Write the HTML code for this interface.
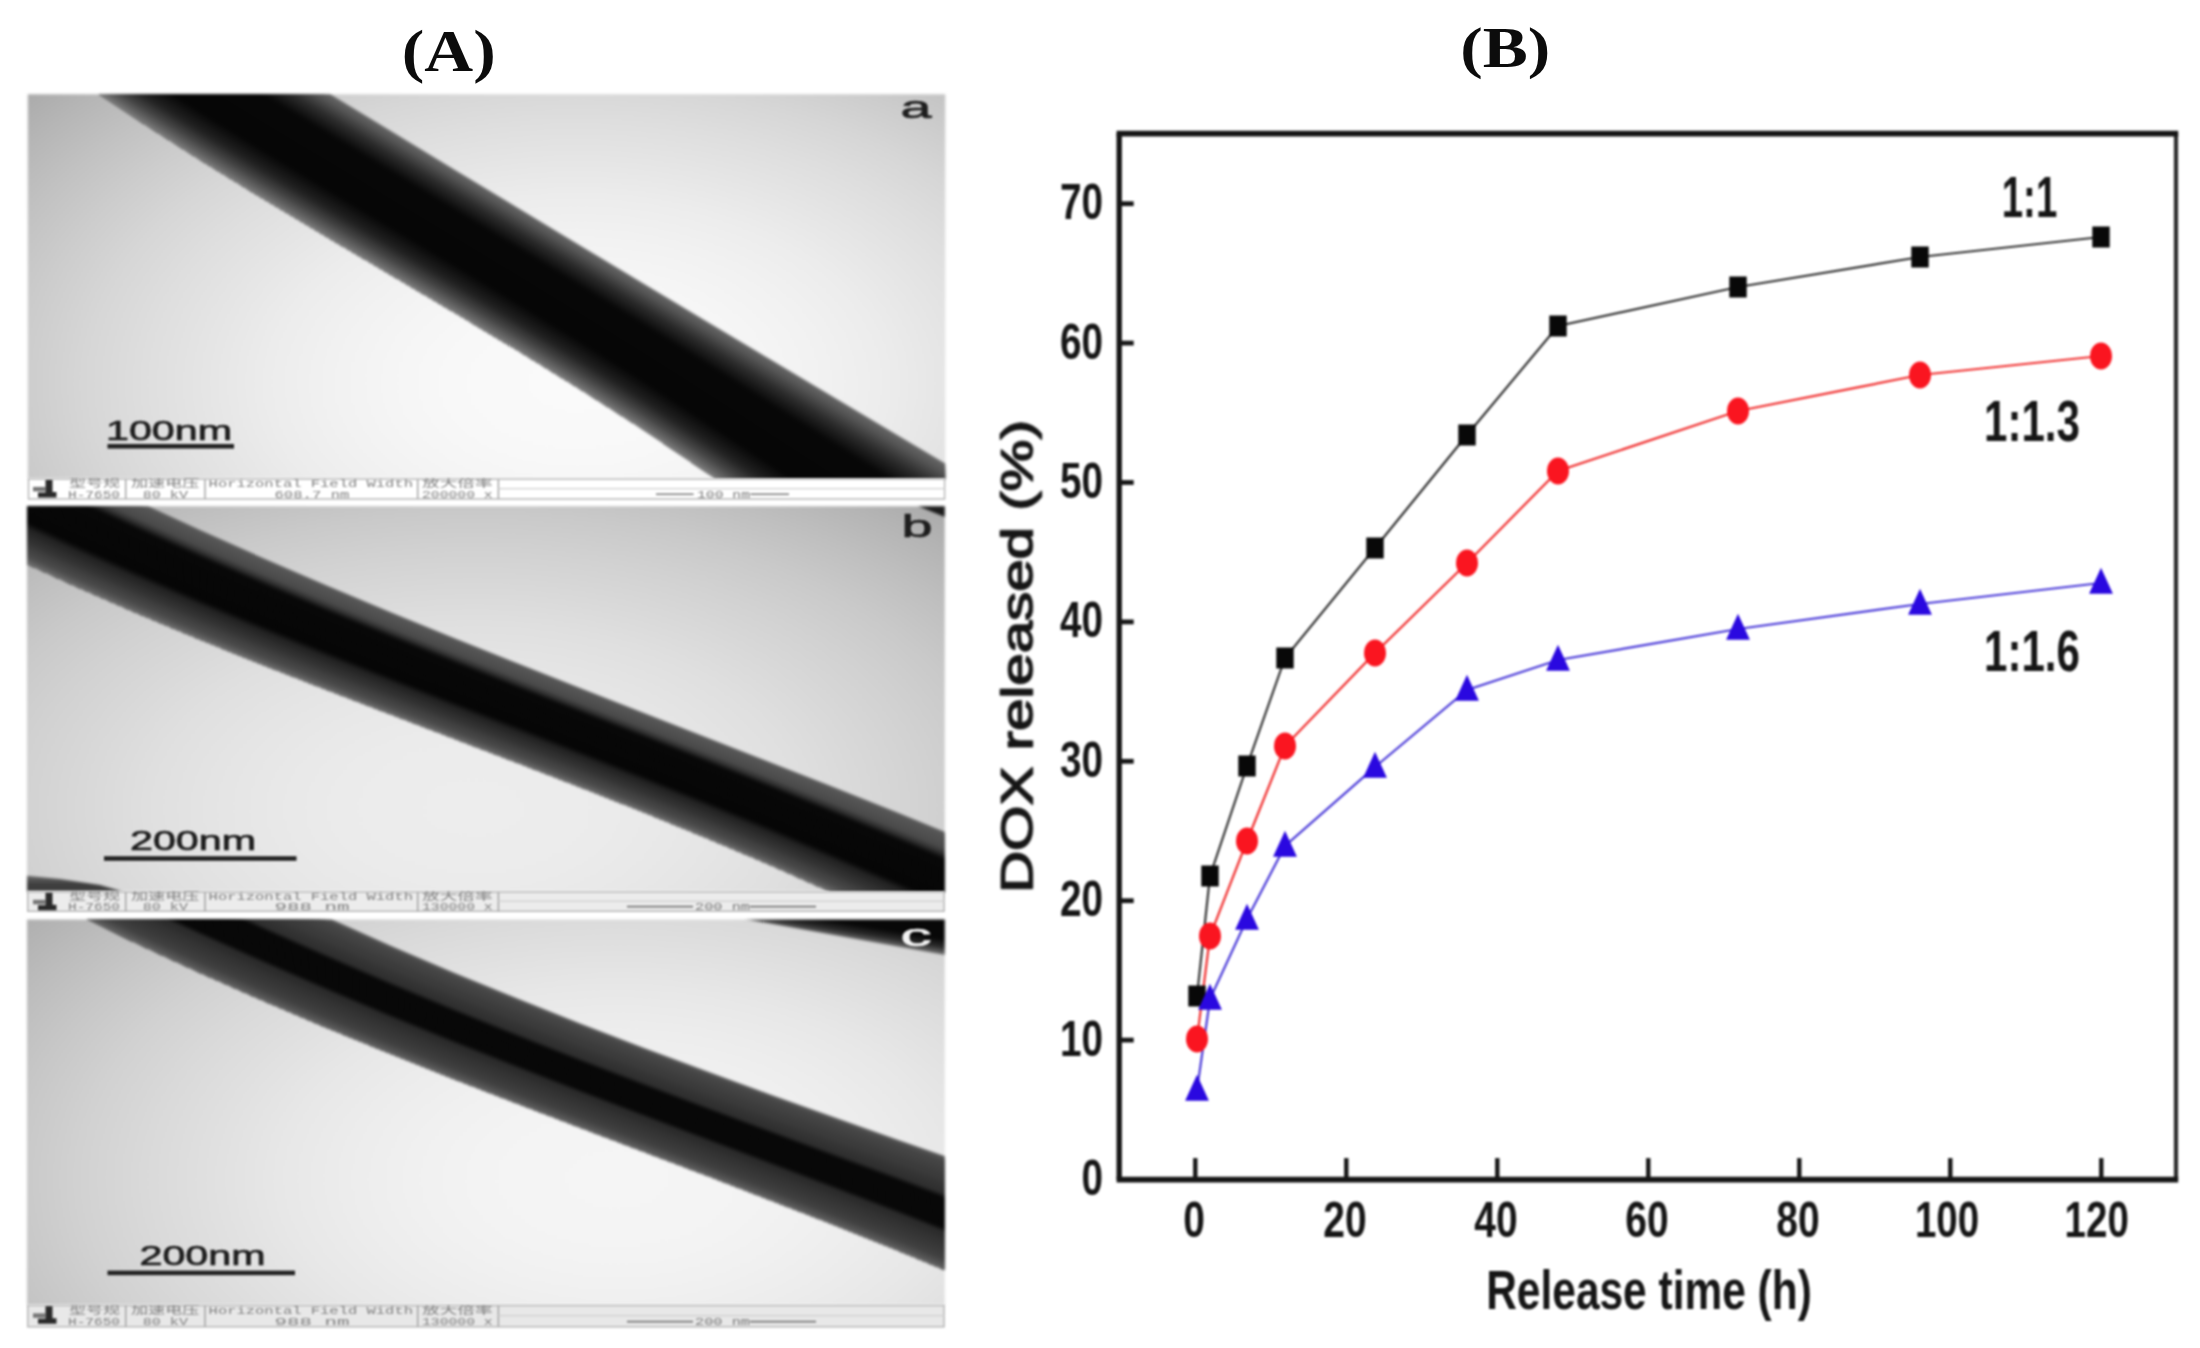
<!DOCTYPE html>
<html lang="en"><head><meta charset="utf-8"><title>Figure</title>
<style>
html,body{margin:0;padding:0;background:#fff;}
body{width:2200px;height:1348px;overflow:hidden;}
svg{display:block;}
text{font-family:"Liberation Sans","Noto Sans CJK SC",sans-serif;}
.ser{font-family:"Liberation Serif",serif;font-weight:bold;}
.mono{font-family:"Liberation Mono","Noto Sans CJK SC",monospace;}
</style></head><body>
<svg width="2200" height="1348" viewBox="0 0 2200 1348">
<defs>
<filter id="blur1" color-interpolation-filters="sRGB" filterUnits="userSpaceOnUse" x="0" y="60" width="1000" height="1288"><feGaussianBlur stdDeviation="1.7"/></filter>
<filter id="blurT" color-interpolation-filters="sRGB" filterUnits="userSpaceOnUse" x="0" y="60" width="1000" height="1288"><feGaussianBlur stdDeviation="0.9"/></filter>
<filter id="blurC" color-interpolation-filters="sRGB" filterUnits="userSpaceOnUse" x="960" y="0" width="1240" height="1348"><feGaussianBlur stdDeviation="0.8"/></filter>
<filter id="blurH" color-interpolation-filters="sRGB" filterUnits="userSpaceOnUse" x="300" y="0" width="1400" height="100"><feGaussianBlur stdDeviation="0.7"/></filter>

<radialGradient id="bga" gradientUnits="userSpaceOnUse" cx="577" cy="383" r="987" gradientTransform="translate(577 383) scale(1 0.6047) translate(-577 -383)"><stop offset="0.0000" stop-color="#fafafa"/><stop offset="0.0625" stop-color="#f9f9f9"/><stop offset="0.1250" stop-color="#f8f8f8"/><stop offset="0.1875" stop-color="#f5f5f5"/><stop offset="0.2500" stop-color="#f1f1f1"/><stop offset="0.3125" stop-color="#ececec"/><stop offset="0.3750" stop-color="#e5e5e5"/><stop offset="0.4375" stop-color="#dedede"/><stop offset="0.5000" stop-color="#d6d6d6"/><stop offset="0.5625" stop-color="#cccccc"/><stop offset="0.6250" stop-color="#c1c1c1"/><stop offset="0.6875" stop-color="#b5b5b5"/><stop offset="0.7500" stop-color="#a8a8a8"/><stop offset="0.8125" stop-color="#9a9a9a"/><stop offset="0.8750" stop-color="#8a8a8a"/><stop offset="0.9375" stop-color="#888888"/><stop offset="1.0000" stop-color="#888888"/></radialGradient>
<radialGradient id="bgb" gradientUnits="userSpaceOnUse" cx="474" cy="808" r="1046" gradientTransform="translate(474 808) scale(1 0.5639) translate(-474 -808)"><stop offset="0.0000" stop-color="#ededed"/><stop offset="0.0625" stop-color="#ececec"/><stop offset="0.1250" stop-color="#ebebeb"/><stop offset="0.1875" stop-color="#e8e8e8"/><stop offset="0.2500" stop-color="#e4e4e4"/><stop offset="0.3125" stop-color="#dfdfdf"/><stop offset="0.3750" stop-color="#d8d8d8"/><stop offset="0.4375" stop-color="#d1d1d1"/><stop offset="0.5000" stop-color="#c9c9c9"/><stop offset="0.5625" stop-color="#bfbfbf"/><stop offset="0.6250" stop-color="#b4b4b4"/><stop offset="0.6875" stop-color="#a8a8a8"/><stop offset="0.7500" stop-color="#9b9b9b"/><stop offset="0.8125" stop-color="#8d8d8d"/><stop offset="0.8750" stop-color="#888888"/><stop offset="0.9375" stop-color="#888888"/><stop offset="1.0000" stop-color="#888888"/></radialGradient>
<radialGradient id="bgc" gradientUnits="userSpaceOnUse" cx="617" cy="1179" r="1079" gradientTransform="translate(617 1179) scale(1 0.5682) translate(-617 -1179)"><stop offset="0.0000" stop-color="#f5f5f5"/><stop offset="0.0625" stop-color="#f4f4f4"/><stop offset="0.1250" stop-color="#f3f3f3"/><stop offset="0.1875" stop-color="#f0f0f0"/><stop offset="0.2500" stop-color="#ececec"/><stop offset="0.3125" stop-color="#e7e7e7"/><stop offset="0.3750" stop-color="#e0e0e0"/><stop offset="0.4375" stop-color="#d9d9d9"/><stop offset="0.5000" stop-color="#d1d1d1"/><stop offset="0.5625" stop-color="#c7c7c7"/><stop offset="0.6250" stop-color="#bcbcbc"/><stop offset="0.6875" stop-color="#b0b0b0"/><stop offset="0.7500" stop-color="#a3a3a3"/><stop offset="0.8125" stop-color="#959595"/><stop offset="0.8750" stop-color="#888888"/><stop offset="0.9375" stop-color="#888888"/><stop offset="1.0000" stop-color="#888888"/></radialGradient>
<linearGradient id="lgc" gradientUnits="userSpaceOnUse" x1="836" y1="937.5" x2="838.6" y2="921.7"><stop offset="0" stop-color="#777"/><stop offset="0.5" stop-color="#2a2a2a"/><stop offset="1" stop-color="#080808"/></linearGradient>
<linearGradient id="lgf" x1="0" y1="0" x2="0" y2="1"><stop offset="0" stop-color="#6a6a6a"/><stop offset="0.5" stop-color="#3c3c3c"/><stop offset="1" stop-color="#444"/></linearGradient>
<clipPath id="cpa"><rect x="27.8" y="94.3" width="917.5" height="384.1"/></clipPath>
<clipPath id="cpb"><rect x="27.0" y="506.3" width="917.8" height="385.0"/></clipPath>
<clipPath id="cpc"><rect x="27.0" y="919.5" width="917.8" height="385.3"/></clipPath>
</defs>
<rect width="2200" height="1348" fill="#fff"/>
<g filter="url(#blur1)"><g clip-path="url(#cpa)">
<rect x="22.8" y="89.3" width="927.5" height="394.1" fill="url(#bga)"/>
<polygon points="10.0,-100.5 73.3,-62.0 136.7,-23.5 200.0,15.1 263.3,53.6 326.7,92.1 390.0,130.6 453.3,168.9 516.7,207.2 580.0,245.4 643.3,283.5 706.7,321.4 770.0,359.3 833.3,397.1 896.7,434.8 960.0,472.3 960.0,649.6 896.7,605.3 833.3,561.0 770.0,516.7 706.7,472.4 643.3,429.6 580.0,388.9 516.7,349.8 453.3,311.8 390.0,274.2 326.7,236.7 263.3,198.8 200.0,159.8 136.7,119.3 73.3,76.9 10.0,34.2" fill="#646464"/>
<polygon points="10.0,-97.4 73.3,-58.8 136.7,-20.2 200.0,18.3 263.3,56.9 326.7,95.4 390.0,133.8 453.3,172.2 516.7,210.5 580.0,248.7 643.3,286.8 706.7,324.9 770.0,362.9 833.3,400.8 896.7,438.6 960.0,476.4 960.0,649.6 896.7,605.3 833.3,561.0 770.0,516.7 706.7,472.4 643.3,429.6 580.0,388.9 516.7,349.8 453.3,311.8 390.0,274.2 326.7,236.7 263.3,198.8 200.0,159.8 136.7,119.3 73.3,76.9 10.0,34.2" fill="#5c5c5c"/>
<polygon points="10.0,-94.4 73.3,-55.7 136.7,-17.0 200.0,21.6 263.3,60.2 326.7,98.7 390.0,137.1 453.3,175.4 516.7,213.7 580.0,251.9 643.3,290.1 706.7,328.3 770.0,366.5 833.3,404.5 896.7,442.5 960.0,480.4 960.0,649.6 896.7,605.3 833.3,561.0 770.0,516.7 706.7,472.4 643.3,429.6 580.0,388.9 516.7,349.8 453.3,311.8 390.0,274.2 326.7,236.7 263.3,198.8 200.0,159.8 136.7,119.3 73.3,76.9 10.0,34.2" fill="#555555"/>
<polygon points="10.0,-91.3 73.3,-52.5 136.7,-13.7 200.0,24.9 263.3,63.5 326.7,102.0 390.0,140.4 453.3,178.7 516.7,216.9 580.0,255.2 643.3,293.4 706.7,331.7 770.0,370.0 833.3,408.3 896.7,446.4 960.0,484.4 960.0,649.6 896.7,605.3 833.3,561.0 770.0,516.7 706.7,472.4 643.3,429.6 580.0,388.9 516.7,349.8 453.3,311.8 390.0,274.2 326.7,236.7 263.3,198.8 200.0,159.8 136.7,119.3 73.3,76.9 10.0,34.2" fill="#4c4c4c"/>
<polygon points="10.0,-88.3 73.3,-49.4 136.7,-10.5 200.0,28.2 263.3,66.8 326.7,105.2 390.0,143.6 453.3,181.9 516.7,220.2 580.0,258.4 643.3,296.7 706.7,335.2 770.0,373.6 833.3,412.0 896.7,450.3 960.0,488.5 960.0,649.6 896.7,605.3 833.3,561.0 770.0,516.7 706.7,472.4 643.3,429.6 580.0,388.9 516.7,349.8 453.3,311.8 390.0,274.2 326.7,236.7 263.3,198.8 200.0,159.8 136.7,119.3 73.3,76.9 10.0,34.2" fill="#434343"/>
<polygon points="10.0,-85.2 73.3,-46.2 136.7,-7.2 200.0,31.5 263.3,70.1 326.7,108.5 390.0,146.9 453.3,185.2 516.7,223.4 580.0,261.7 643.3,300.1 706.7,338.6 770.0,377.2 833.3,415.7 896.7,454.1 960.0,492.5 960.0,649.6 896.7,605.3 833.3,561.0 770.0,516.7 706.7,472.4 643.3,429.6 580.0,388.9 516.7,349.8 453.3,311.8 390.0,274.2 326.7,236.7 263.3,198.8 200.0,159.8 136.7,119.3 73.3,76.9 10.0,34.2" fill="#3a3a3a"/>
<polygon points="10.0,-82.1 73.3,-43.0 136.7,-4.0 200.0,34.8 263.3,73.4 326.7,111.8 390.0,150.2 453.3,188.4 516.7,226.7 580.0,265.0 643.3,303.4 706.7,342.0 770.0,380.8 833.3,419.4 896.7,458.0 960.0,496.5 960.0,649.6 896.7,605.3 833.3,561.0 770.0,516.7 706.7,472.4 643.3,429.6 580.0,388.9 516.7,349.8 453.3,311.8 390.0,274.2 326.7,236.7 263.3,198.8 200.0,159.8 136.7,119.3 73.3,76.9 10.0,34.2" fill="#313131"/>
<polygon points="10.0,-79.1 73.3,-39.9 136.7,-0.8 200.0,38.1 263.3,76.7 326.7,115.1 390.0,153.4 453.3,191.7 516.7,229.9 580.0,268.2 643.3,306.7 706.7,345.5 770.0,384.3 833.3,423.2 896.7,461.9 960.0,500.5 960.0,649.6 896.7,605.3 833.3,561.0 770.0,516.7 706.7,472.4 643.3,429.6 580.0,388.9 516.7,349.8 453.3,311.8 390.0,274.2 326.7,236.7 263.3,198.8 200.0,159.8 136.7,119.3 73.3,76.9 10.0,34.2" fill="#292929"/>
<polygon points="10.0,-76.0 73.3,-36.7 136.7,2.5 200.0,41.4 263.3,80.0 326.7,118.4 390.0,156.7 453.3,194.9 516.7,233.1 580.0,271.5 643.3,310.0 706.7,348.9 770.0,387.9 833.3,426.9 896.7,465.8 960.0,504.6 960.0,649.6 896.7,605.3 833.3,561.0 770.0,516.7 706.7,472.4 643.3,429.6 580.0,388.9 516.7,349.8 453.3,311.8 390.0,274.2 326.7,236.7 263.3,198.8 200.0,159.8 136.7,119.3 73.3,76.9 10.0,34.2" fill="#232323"/>
<polygon points="10.0,-72.9 73.3,-33.6 136.7,5.7 200.0,44.7 263.3,83.3 326.7,121.7 390.0,160.0 453.3,198.2 516.7,236.4 580.0,274.8 643.3,313.4 706.7,352.3 770.0,391.5 833.3,430.6 896.7,469.6 960.0,508.6 960.0,649.6 896.7,605.3 833.3,561.0 770.0,516.7 706.7,472.4 643.3,429.6 580.0,388.9 516.7,349.8 453.3,311.8 390.0,274.2 326.7,236.7 263.3,198.8 200.0,159.8 136.7,119.3 73.3,76.9 10.0,34.2" fill="#1c1c1c"/>
<polygon points="10.0,-69.9 73.3,-30.4 136.7,9.0 200.0,47.9 263.3,86.6 326.7,125.0 390.0,163.2 453.3,201.4 516.7,239.6 580.0,278.0 643.3,316.7 706.7,355.7 770.0,395.1 833.3,434.3 896.7,473.5 960.0,512.6 960.0,649.6 896.7,605.3 833.3,561.0 770.0,516.7 706.7,472.4 643.3,429.6 580.0,388.9 516.7,349.8 453.3,311.8 390.0,274.2 326.7,236.7 263.3,198.8 200.0,159.8 136.7,119.3 73.3,76.9 10.0,34.2" fill="#161616"/>
<polygon points="10.0,-66.8 73.3,-27.3 136.7,12.2 200.0,51.2 263.3,89.9 326.7,128.3 390.0,166.5 453.3,204.6 516.7,242.9 580.0,281.3 643.3,320.0 706.7,359.2 770.0,398.7 833.3,438.1 896.7,477.4 960.0,516.7 960.0,649.6 896.7,605.3 833.3,561.0 770.0,516.7 706.7,472.4 643.3,429.6 580.0,388.9 516.7,349.8 453.3,311.8 390.0,274.2 326.7,236.7 263.3,198.8 200.0,159.8 136.7,119.3 73.3,76.9 10.0,34.2" fill="#0f0f0f"/>
<polygon points="10.0,-63.8 73.3,-24.1 136.7,15.5 200.0,54.5 263.3,93.2 326.7,131.5 390.0,169.7 453.3,207.9 516.7,246.1 580.0,284.5 643.3,323.3 706.7,362.6 770.0,402.2 833.3,441.8 896.7,481.3 960.0,520.7 960.0,649.6 896.7,605.3 833.3,561.0 770.0,516.7 706.7,472.4 643.3,429.6 580.0,388.9 516.7,349.8 453.3,311.8 390.0,274.2 326.7,236.7 263.3,198.8 200.0,159.8 136.7,119.3 73.3,76.9 10.0,34.2" fill="#090909"/>
<polygon points="10.0,-60.7 73.3,-20.9 136.7,18.7 200.0,57.8 263.3,96.5 326.7,134.8 390.0,173.0 453.3,211.1 516.7,249.3 580.0,287.8 643.3,326.6 706.7,366.0 770.0,405.8 833.3,445.5 896.7,485.1 960.0,524.7 960.0,649.6 896.7,605.3 833.3,561.0 770.0,516.7 706.7,472.4 643.3,429.6 580.0,388.9 516.7,349.8 453.3,311.8 390.0,274.2 326.7,236.7 263.3,198.8 200.0,159.8 136.7,119.3 73.3,76.9 10.0,34.2" fill="#070707"/>
<polygon points="10.0,-57.6 73.3,-17.8 136.7,22.0 200.0,61.1 263.3,99.8 326.7,138.1 390.0,176.3 453.3,214.4 516.7,252.6 580.0,291.1 643.3,330.0 706.7,369.5 770.0,409.4 833.3,449.2 896.7,489.0 960.0,528.7 960.0,649.6 896.7,605.3 833.3,561.0 770.0,516.7 706.7,472.4 643.3,429.6 580.0,388.9 516.7,349.8 453.3,311.8 390.0,274.2 326.7,236.7 263.3,198.8 200.0,159.8 136.7,119.3 73.3,76.9 10.0,34.2" fill="#070707"/>
<polygon points="10.0,-54.6 73.3,-14.6 136.7,25.2 200.0,64.4 263.3,103.1 326.7,141.4 390.0,179.5 453.3,217.6 516.7,255.8 580.0,294.3 643.3,333.3 706.7,372.9 770.0,413.0 833.3,453.0 896.7,492.9 960.0,532.8 960.0,649.6 896.7,605.3 833.3,561.0 770.0,516.7 706.7,472.4 643.3,429.6 580.0,388.9 516.7,349.8 453.3,311.8 390.0,274.2 326.7,236.7 263.3,198.8 200.0,159.8 136.7,119.3 73.3,76.9 10.0,34.2" fill="#070707"/>
<polygon points="10.0,-51.5 73.3,-11.5 136.7,28.4 200.0,67.7 263.3,106.4 326.7,144.7 390.0,182.8 453.3,220.9 516.7,259.1 580.0,297.6 643.3,336.6 706.7,376.3 770.0,416.5 833.3,456.7 896.7,496.8 960.0,536.8 960.0,649.6 896.7,605.3 833.3,561.0 770.0,516.7 706.7,472.4 643.3,429.6 580.0,388.9 516.7,349.8 453.3,311.8 390.0,274.2 326.7,236.7 263.3,198.8 200.0,159.8 136.7,119.3 73.3,76.9 10.0,34.2" fill="#070707"/>
<polygon points="10.0,-48.4 73.3,-8.3 136.7,31.7 200.0,71.0 263.3,109.7 326.7,148.0 390.0,186.1 453.3,224.1 516.7,262.3 580.0,300.9 643.3,339.9 706.7,379.8 770.0,420.1 833.3,460.4 896.7,500.7 960.0,540.8 960.0,649.6 896.7,605.3 833.3,561.0 770.0,516.7 706.7,472.4 643.3,429.6 580.0,388.9 516.7,349.8 453.3,311.8 390.0,274.2 326.7,236.7 263.3,198.8 200.0,159.8 136.7,119.3 73.3,76.9 10.0,34.2" fill="#070707"/>
<polygon points="10.0,-45.4 73.3,-5.2 136.7,34.9 200.0,74.3 263.3,113.0 326.7,151.3 390.0,189.3 453.3,227.4 516.7,265.6 580.0,304.1 643.3,343.3 706.7,383.2 770.0,423.7 833.3,464.1 896.7,504.5 960.0,544.9 960.0,649.6 896.7,605.3 833.3,561.0 770.0,516.7 706.7,472.4 643.3,429.6 580.0,388.9 516.7,349.8 453.3,311.8 390.0,274.2 326.7,236.7 263.3,198.8 200.0,159.8 136.7,119.3 73.3,76.9 10.0,34.2" fill="#070707"/>
<polygon points="10.0,-42.3 73.3,-2.0 136.7,38.2 200.0,77.5 263.3,116.3 326.7,154.6 390.0,192.6 453.3,230.6 516.7,268.8 580.0,307.4 643.3,346.6 706.7,386.6 770.0,427.3 833.3,467.9 896.7,508.4 960.0,548.9 960.0,649.6 896.7,605.3 833.3,561.0 770.0,516.7 706.7,472.4 643.3,429.6 580.0,388.9 516.7,349.8 453.3,311.8 390.0,274.2 326.7,236.7 263.3,198.8 200.0,159.8 136.7,119.3 73.3,76.9 10.0,34.2" fill="#070707"/>
<polygon points="10.0,-39.3 73.3,1.2 136.7,41.4 200.0,80.8 263.3,119.6 326.7,157.8 390.0,195.9 453.3,233.9 516.7,272.0 580.0,310.6 643.3,349.9 706.7,390.1 770.0,430.8 833.3,471.6 896.7,512.3 960.0,552.9 960.0,649.6 896.7,605.3 833.3,561.0 770.0,516.7 706.7,472.4 643.3,429.6 580.0,388.9 516.7,349.8 453.3,311.8 390.0,274.2 326.7,236.7 263.3,198.8 200.0,159.8 136.7,119.3 73.3,76.9 10.0,34.2" fill="#070707"/>
<polygon points="10.0,-36.2 73.3,4.3 136.7,44.7 200.0,84.1 263.3,122.9 326.7,161.1 390.0,199.1 453.3,237.1 516.7,275.3 580.0,313.9 643.3,353.2 706.7,393.5 770.0,434.4 833.3,475.3 896.7,516.2 960.0,556.9 960.0,649.6 896.7,605.3 833.3,561.0 770.0,516.7 706.7,472.4 643.3,429.6 580.0,388.9 516.7,349.8 453.3,311.8 390.0,274.2 326.7,236.7 263.3,198.8 200.0,159.8 136.7,119.3 73.3,76.9 10.0,34.2" fill="#060606"/>
<polygon points="10.0,-33.1 73.3,7.5 136.7,47.9 200.0,87.4 263.3,126.2 326.7,164.4 390.0,202.4 453.3,240.4 516.7,278.5 580.0,317.2 643.3,356.5 706.7,396.9 770.0,438.0 833.3,479.0 896.7,520.0 960.0,561.0 960.0,649.6 896.7,605.3 833.3,561.0 770.0,516.7 706.7,472.4 643.3,429.6 580.0,388.9 516.7,349.8 453.3,311.8 390.0,274.2 326.7,236.7 263.3,198.8 200.0,159.8 136.7,119.3 73.3,76.9 10.0,34.2" fill="#060606"/>
<polygon points="10.0,-30.1 73.3,10.6 136.7,51.1 200.0,90.7 263.3,129.5 326.7,167.7 390.0,205.7 453.3,243.6 516.7,281.8 580.0,320.4 643.3,359.9 706.7,400.3 770.0,441.6 833.3,482.8 896.7,523.9 960.0,565.0 960.0,649.6 896.7,605.3 833.3,561.0 770.0,516.7 706.7,472.4 643.3,429.6 580.0,388.9 516.7,349.8 453.3,311.8 390.0,274.2 326.7,236.7 263.3,198.8 200.0,159.8 136.7,119.3 73.3,76.9 10.0,34.2" fill="#060606"/>
<polygon points="10.0,-27.0 73.3,13.8 136.7,54.4 200.0,94.0 263.3,132.8 326.7,171.0 390.0,208.9 453.3,246.8 516.7,285.0 580.0,323.7 643.3,363.2 706.7,403.8 770.0,445.1 833.3,486.5 896.7,527.8 960.0,569.0 960.0,649.6 896.7,605.3 833.3,561.0 770.0,516.7 706.7,472.4 643.3,429.6 580.0,388.9 516.7,349.8 453.3,311.8 390.0,274.2 326.7,236.7 263.3,198.8 200.0,159.8 136.7,119.3 73.3,76.9 10.0,34.2" fill="#060606"/>
<polygon points="10.0,-24.0 73.3,16.9 136.7,57.6 200.0,97.3 263.3,136.1 326.7,174.3 390.0,212.2 453.3,250.1 516.7,288.2 580.0,327.0 643.3,366.5 706.7,407.2 770.0,448.7 833.3,490.2 896.7,531.7 960.0,573.1 960.0,649.6 896.7,605.3 833.3,561.0 770.0,516.7 706.7,472.4 643.3,429.6 580.0,388.9 516.7,349.8 453.3,311.8 390.0,274.2 326.7,236.7 263.3,198.8 200.0,159.8 136.7,119.3 73.3,76.9 10.0,34.2" fill="#060606"/>
<polygon points="10.0,-20.9 73.3,20.1 136.7,60.9 200.0,100.6 263.3,139.4 326.7,177.6 390.0,215.5 453.3,253.3 516.7,291.5 580.0,330.2 643.3,369.8 706.7,410.6 770.0,452.3 833.3,493.9 896.7,535.5 960.0,577.1 960.0,649.6 896.7,605.3 833.3,561.0 770.0,516.7 706.7,472.4 643.3,429.6 580.0,388.9 516.7,349.8 453.3,311.8 390.0,274.2 326.7,236.7 263.3,198.8 200.0,159.8 136.7,119.3 73.3,76.9 10.0,34.2" fill="#060606"/>
<polygon points="10.0,-17.8 73.3,23.3 136.7,64.1 200.0,103.9 263.3,142.7 326.7,180.9 390.0,218.7 453.3,256.6 516.7,294.7 580.0,333.5 643.3,373.2 706.7,414.1 770.0,455.9 833.3,497.7 896.7,539.4 960.0,581.1 960.0,649.6 896.7,605.3 833.3,561.0 770.0,516.7 706.7,472.4 643.3,429.6 580.0,388.9 516.7,349.8 453.3,311.8 390.0,274.2 326.7,236.7 263.3,198.8 200.0,159.8 136.7,119.3 73.3,76.9 10.0,34.2" fill="#060606"/>
<polygon points="10.0,-14.8 73.3,26.4 136.7,67.4 200.0,107.1 263.3,146.0 326.7,184.1 390.0,222.0 453.3,259.8 516.7,298.0 580.0,336.7 643.3,376.5 706.7,417.5 770.0,459.5 833.3,501.4 896.7,543.3 960.0,585.1 960.0,649.6 896.7,605.3 833.3,561.0 770.0,516.7 706.7,472.4 643.3,429.6 580.0,388.9 516.7,349.8 453.3,311.8 390.0,274.2 326.7,236.7 263.3,198.8 200.0,159.8 136.7,119.3 73.3,76.9 10.0,34.2" fill="#060606"/>
<polygon points="10.0,-11.7 73.3,29.6 136.7,70.6 200.0,110.4 263.3,149.3 326.7,187.4 390.0,225.3 453.3,263.1 516.7,301.2 580.0,340.0 643.3,379.8 706.7,420.9 770.0,463.0 833.3,505.1 896.7,547.2 960.0,589.2 960.0,649.6 896.7,605.3 833.3,561.0 770.0,516.7 706.7,472.4 643.3,429.6 580.0,388.9 516.7,349.8 453.3,311.8 390.0,274.2 326.7,236.7 263.3,198.8 200.0,159.8 136.7,119.3 73.3,76.9 10.0,34.2" fill="#080808"/>
<polygon points="10.0,-8.6 73.3,32.7 136.7,73.9 200.0,113.7 263.3,152.6 326.7,190.7 390.0,228.5 453.3,266.3 516.7,304.4 580.0,343.3 643.3,383.1 706.7,424.4 770.0,466.6 833.3,508.8 896.7,551.0 960.0,593.2 960.0,649.6 896.7,605.3 833.3,561.0 770.0,516.7 706.7,472.4 643.3,429.6 580.0,388.9 516.7,349.8 453.3,311.8 390.0,274.2 326.7,236.7 263.3,198.8 200.0,159.8 136.7,119.3 73.3,76.9 10.0,34.2" fill="#0d0d0d"/>
<polygon points="10.0,-5.6 73.3,35.9 136.7,77.1 200.0,117.0 263.3,155.9 326.7,194.0 390.0,231.8 453.3,269.6 516.7,307.7 580.0,346.5 643.3,386.4 706.7,427.8 770.0,470.2 833.3,512.6 896.7,554.9 960.0,597.2 960.0,649.6 896.7,605.3 833.3,561.0 770.0,516.7 706.7,472.4 643.3,429.6 580.0,388.9 516.7,349.8 453.3,311.8 390.0,274.2 326.7,236.7 263.3,198.8 200.0,159.8 136.7,119.3 73.3,76.9 10.0,34.2" fill="#111111"/>
<polygon points="10.0,-2.5 73.3,39.0 136.7,80.3 200.0,120.3 263.3,159.2 326.7,197.3 390.0,235.1 453.3,272.8 516.7,310.9 580.0,349.8 643.3,389.8 706.7,431.2 770.0,473.8 833.3,516.3 896.7,558.8 960.0,601.3 960.0,649.6 896.7,605.3 833.3,561.0 770.0,516.7 706.7,472.4 643.3,429.6 580.0,388.9 516.7,349.8 453.3,311.8 390.0,274.2 326.7,236.7 263.3,198.8 200.0,159.8 136.7,119.3 73.3,76.9 10.0,34.2" fill="#161616"/>
<polygon points="10.0,0.5 73.3,42.2 136.7,83.6 200.0,123.6 263.3,162.5 326.7,200.6 390.0,238.3 453.3,276.1 516.7,314.2 580.0,353.1 643.3,393.1 706.7,434.7 770.0,477.3 833.3,520.0 896.7,562.7 960.0,605.3 960.0,649.6 896.7,605.3 833.3,561.0 770.0,516.7 706.7,472.4 643.3,429.6 580.0,388.9 516.7,349.8 453.3,311.8 390.0,274.2 326.7,236.7 263.3,198.8 200.0,159.8 136.7,119.3 73.3,76.9 10.0,34.2" fill="#1a1a1a"/>
<polygon points="10.0,3.6 73.3,45.4 136.7,86.8 200.0,126.9 263.3,165.8 326.7,203.9 390.0,241.6 453.3,279.3 516.7,317.4 580.0,356.3 643.3,396.4 706.7,438.1 770.0,480.9 833.3,523.7 896.7,566.5 960.0,609.3 960.0,649.6 896.7,605.3 833.3,561.0 770.0,516.7 706.7,472.4 643.3,429.6 580.0,388.9 516.7,349.8 453.3,311.8 390.0,274.2 326.7,236.7 263.3,198.8 200.0,159.8 136.7,119.3 73.3,76.9 10.0,34.2" fill="#1f1f1f"/>
<polygon points="10.0,6.7 73.3,48.5 136.7,90.1 200.0,130.2 263.3,169.1 326.7,207.2 390.0,244.9 453.3,282.5 516.7,320.7 580.0,359.6 643.3,399.7 706.7,441.5 770.0,484.5 833.3,527.5 896.7,570.4 960.0,613.4 960.0,649.6 896.7,605.3 833.3,561.0 770.0,516.7 706.7,472.4 643.3,429.6 580.0,388.9 516.7,349.8 453.3,311.8 390.0,274.2 326.7,236.7 263.3,198.8 200.0,159.8 136.7,119.3 73.3,76.9 10.0,34.2" fill="#252525"/>
<polygon points="10.0,9.7 73.3,51.7 136.7,93.3 200.0,133.5 263.3,172.4 326.7,210.4 390.0,248.1 453.3,285.8 516.7,323.9 580.0,362.8 643.3,403.0 706.7,444.9 770.0,488.1 833.3,531.2 896.7,574.3 960.0,617.4 960.0,649.6 896.7,605.3 833.3,561.0 770.0,516.7 706.7,472.4 643.3,429.6 580.0,388.9 516.7,349.8 453.3,311.8 390.0,274.2 326.7,236.7 263.3,198.8 200.0,159.8 136.7,119.3 73.3,76.9 10.0,34.2" fill="#2d2d2d"/>
<polygon points="10.0,12.8 73.3,54.8 136.7,96.6 200.0,136.7 263.3,175.7 326.7,213.7 390.0,251.4 453.3,289.0 516.7,327.1 580.0,366.1 643.3,406.4 706.7,448.4 770.0,491.6 833.3,534.9 896.7,578.2 960.0,621.4 960.0,649.6 896.7,605.3 833.3,561.0 770.0,516.7 706.7,472.4 643.3,429.6 580.0,388.9 516.7,349.8 453.3,311.8 390.0,274.2 326.7,236.7 263.3,198.8 200.0,159.8 136.7,119.3 73.3,76.9 10.0,34.2" fill="#363636"/>
<polygon points="10.0,15.8 73.3,58.0 136.7,99.8 200.0,140.0 263.3,179.0 326.7,217.0 390.0,254.6 453.3,292.3 516.7,330.4 580.0,369.4 643.3,409.7 706.7,451.8 770.0,495.2 833.3,538.6 896.7,582.0 960.0,625.4 960.0,649.6 896.7,605.3 833.3,561.0 770.0,516.7 706.7,472.4 643.3,429.6 580.0,388.9 516.7,349.8 453.3,311.8 390.0,274.2 326.7,236.7 263.3,198.8 200.0,159.8 136.7,119.3 73.3,76.9 10.0,34.2" fill="#3e3e3e"/>
<polygon points="10.0,18.9 73.3,61.1 136.7,103.0 200.0,143.3 263.3,182.3 326.7,220.3 390.0,257.9 453.3,295.5 516.7,333.6 580.0,372.6 643.3,413.0 706.7,455.2 770.0,498.8 833.3,542.4 896.7,585.9 960.0,629.5 960.0,649.6 896.7,605.3 833.3,561.0 770.0,516.7 706.7,472.4 643.3,429.6 580.0,388.9 516.7,349.8 453.3,311.8 390.0,274.2 326.7,236.7 263.3,198.8 200.0,159.8 136.7,119.3 73.3,76.9 10.0,34.2" fill="#474747"/>
<polygon points="10.0,22.0 73.3,64.3 136.7,106.3 200.0,146.6 263.3,185.6 326.7,223.6 390.0,261.2 453.3,298.8 516.7,336.9 580.0,375.9 643.3,416.3 706.7,458.7 770.0,502.4 833.3,546.1 896.7,589.8 960.0,633.5 960.0,649.6 896.7,605.3 833.3,561.0 770.0,516.7 706.7,472.4 643.3,429.6 580.0,388.9 516.7,349.8 453.3,311.8 390.0,274.2 326.7,236.7 263.3,198.8 200.0,159.8 136.7,119.3 73.3,76.9 10.0,34.2" fill="#525252"/>
<polygon points="10.0,25.0 73.3,67.5 136.7,109.5 200.0,149.9 263.3,188.9 326.7,226.9 390.0,264.4 453.3,302.0 516.7,340.1 580.0,379.2 643.3,419.7 706.7,462.1 770.0,506.0 833.3,549.8 896.7,593.7 960.0,637.5 960.0,649.6 896.7,605.3 833.3,561.0 770.0,516.7 706.7,472.4 643.3,429.6 580.0,388.9 516.7,349.8 453.3,311.8 390.0,274.2 326.7,236.7 263.3,198.8 200.0,159.8 136.7,119.3 73.3,76.9 10.0,34.2" fill="#5d5d5d"/>
<polygon points="10.0,28.1 73.3,70.6 136.7,112.8 200.0,153.2 263.3,192.2 326.7,230.2 390.0,267.7 453.3,305.3 516.7,343.3 580.0,382.4 643.3,423.0 706.7,465.5 770.0,509.5 833.3,553.5 896.7,597.5 960.0,641.6 960.0,649.6 896.7,605.3 833.3,561.0 770.0,516.7 706.7,472.4 643.3,429.6 580.0,388.9 516.7,349.8 453.3,311.8 390.0,274.2 326.7,236.7 263.3,198.8 200.0,159.8 136.7,119.3 73.3,76.9 10.0,34.2" fill="#686868"/>
<polygon points="10.0,31.2 73.3,73.8 136.7,116.0 200.0,156.5 263.3,195.5 326.7,233.5 390.0,271.0 453.3,308.5 516.7,346.6 580.0,385.7 643.3,426.3 706.7,469.0 770.0,513.1 833.3,557.3 896.7,601.4 960.0,645.6 960.0,649.6 896.7,605.3 833.3,561.0 770.0,516.7 706.7,472.4 643.3,429.6 580.0,388.9 516.7,349.8 453.3,311.8 390.0,274.2 326.7,236.7 263.3,198.8 200.0,159.8 136.7,119.3 73.3,76.9 10.0,34.2" fill="#787878"/>
</g></g>
<g filter="url(#blur1)"><g clip-path="url(#cpb)">
<rect x="22.0" y="501.3" width="927.8" height="395.0" fill="url(#bgb)"/>
<polygon points="10.0,441.9 73.3,471.4 136.7,500.9 200.0,530.1 263.3,558.2 326.7,585.5 390.0,611.9 453.3,637.7 516.7,663.0 580.0,688.0 643.3,712.8 706.7,737.4 770.0,762.2 833.3,787.1 896.7,812.3 960.0,838.1 960.0,950.8 896.7,921.9 833.3,893.1 770.0,864.8 706.7,837.9 643.3,812.1 580.0,787.0 516.7,762.5 453.3,738.3 390.0,714.1 326.7,689.8 263.3,665.0 200.0,639.4 136.7,612.9 73.3,585.2 10.0,556.1" fill="#5c5c5c"/>
<polygon points="10.0,444.5 73.3,474.0 136.7,503.5 200.0,532.6 263.3,560.6 326.7,587.8 390.0,614.2 453.3,640.0 516.7,665.3 580.0,690.3 643.3,715.0 706.7,739.7 770.0,764.5 833.3,789.5 896.7,814.8 960.0,840.6 960.0,950.8 896.7,921.9 833.3,893.1 770.0,864.8 706.7,837.9 643.3,812.1 580.0,787.0 516.7,762.5 453.3,738.3 390.0,714.1 326.7,689.8 263.3,665.0 200.0,639.4 136.7,612.9 73.3,585.2 10.0,556.1" fill="#565656"/>
<polygon points="10.0,447.1 73.3,476.6 136.7,506.0 200.0,535.1 263.3,563.1 326.7,590.2 390.0,616.6 453.3,642.3 516.7,667.6 580.0,692.5 643.3,717.3 706.7,742.0 770.0,766.8 833.3,791.9 896.7,817.3 960.0,843.2 960.0,950.8 896.7,921.9 833.3,893.1 770.0,864.8 706.7,837.9 643.3,812.1 580.0,787.0 516.7,762.5 453.3,738.3 390.0,714.1 326.7,689.8 263.3,665.0 200.0,639.4 136.7,612.9 73.3,585.2 10.0,556.1" fill="#535353"/>
<polygon points="10.0,449.7 73.3,479.2 136.7,508.6 200.0,537.5 263.3,565.5 326.7,592.6 390.0,618.9 453.3,644.6 516.7,669.8 580.0,694.8 643.3,719.5 706.7,744.3 770.0,769.2 833.3,794.3 896.7,819.8 960.0,845.7 960.0,950.8 896.7,921.9 833.3,893.1 770.0,864.8 706.7,837.9 643.3,812.1 580.0,787.0 516.7,762.5 453.3,738.3 390.0,714.1 326.7,689.8 263.3,665.0 200.0,639.4 136.7,612.9 73.3,585.2 10.0,556.1" fill="#515151"/>
<polygon points="10.0,452.3 73.3,481.7 136.7,511.1 200.0,540.0 263.3,567.9 326.7,594.9 390.0,621.2 453.3,646.9 516.7,672.1 580.0,697.0 643.3,721.8 706.7,746.6 770.0,771.5 833.3,796.7 896.7,822.3 960.0,848.3 960.0,950.8 896.7,921.9 833.3,893.1 770.0,864.8 706.7,837.9 643.3,812.1 580.0,787.0 516.7,762.5 453.3,738.3 390.0,714.1 326.7,689.8 263.3,665.0 200.0,639.4 136.7,612.9 73.3,585.2 10.0,556.1" fill="#4f4f4f"/>
<polygon points="10.0,454.9 73.3,484.3 136.7,513.6 200.0,542.5 263.3,570.4 326.7,597.3 390.0,623.5 453.3,649.2 516.7,674.4 580.0,699.3 643.3,724.0 706.7,748.8 770.0,773.8 833.3,799.1 896.7,824.8 960.0,850.9 960.0,950.8 896.7,921.9 833.3,893.1 770.0,864.8 706.7,837.9 643.3,812.1 580.0,787.0 516.7,762.5 453.3,738.3 390.0,714.1 326.7,689.8 263.3,665.0 200.0,639.4 136.7,612.9 73.3,585.2 10.0,556.1" fill="#4c4c4c"/>
<polygon points="10.0,457.5 73.3,486.9 136.7,516.2 200.0,545.0 263.3,572.8 326.7,599.7 390.0,625.8 453.3,651.4 516.7,676.6 580.0,701.5 643.3,726.3 706.7,751.1 770.0,776.2 833.3,801.5 896.7,827.3 960.0,853.4 960.0,950.8 896.7,921.9 833.3,893.1 770.0,864.8 706.7,837.9 643.3,812.1 580.0,787.0 516.7,762.5 453.3,738.3 390.0,714.1 326.7,689.8 263.3,665.0 200.0,639.4 136.7,612.9 73.3,585.2 10.0,556.1" fill="#4a4a4a"/>
<polygon points="10.0,460.1 73.3,489.5 136.7,518.7 200.0,547.5 263.3,575.2 326.7,602.0 390.0,628.2 453.3,653.7 516.7,678.9 580.0,703.8 643.3,728.6 706.7,753.4 770.0,778.5 833.3,803.9 896.7,829.8 960.0,856.0 960.0,950.8 896.7,921.9 833.3,893.1 770.0,864.8 706.7,837.9 643.3,812.1 580.0,787.0 516.7,762.5 453.3,738.3 390.0,714.1 326.7,689.8 263.3,665.0 200.0,639.4 136.7,612.9 73.3,585.2 10.0,556.1" fill="#3f3f3f"/>
<polygon points="10.0,462.6 73.3,492.1 136.7,521.3 200.0,550.0 263.3,577.6 326.7,604.4 390.0,630.5 453.3,656.0 516.7,681.1 580.0,706.0 643.3,730.8 706.7,755.7 770.0,780.8 833.3,806.3 896.7,832.3 960.0,858.5 960.0,950.8 896.7,921.9 833.3,893.1 770.0,864.8 706.7,837.9 643.3,812.1 580.0,787.0 516.7,762.5 453.3,738.3 390.0,714.1 326.7,689.8 263.3,665.0 200.0,639.4 136.7,612.9 73.3,585.2 10.0,556.1" fill="#343434"/>
<polygon points="10.0,465.2 73.3,494.7 136.7,523.8 200.0,552.4 263.3,580.1 326.7,606.8 390.0,632.8 453.3,658.3 516.7,683.4 580.0,708.3 643.3,733.1 706.7,758.0 770.0,783.2 833.3,808.8 896.7,834.8 960.0,861.1 960.0,950.8 896.7,921.9 833.3,893.1 770.0,864.8 706.7,837.9 643.3,812.1 580.0,787.0 516.7,762.5 453.3,738.3 390.0,714.1 326.7,689.8 263.3,665.0 200.0,639.4 136.7,612.9 73.3,585.2 10.0,556.1" fill="#232323"/>
<polygon points="10.0,467.8 73.3,497.3 136.7,526.4 200.0,554.9 263.3,582.5 326.7,609.2 390.0,635.1 453.3,660.6 516.7,685.7 580.0,710.5 643.3,735.3 706.7,760.3 770.0,785.5 833.3,811.2 896.7,837.2 960.0,863.7 960.0,950.8 896.7,921.9 833.3,893.1 770.0,864.8 706.7,837.9 643.3,812.1 580.0,787.0 516.7,762.5 453.3,738.3 390.0,714.1 326.7,689.8 263.3,665.0 200.0,639.4 136.7,612.9 73.3,585.2 10.0,556.1" fill="#111111"/>
<polygon points="10.0,470.4 73.3,499.9 136.7,528.9 200.0,557.4 263.3,584.9 326.7,611.5 390.0,637.5 453.3,662.9 516.7,687.9 580.0,712.8 643.3,737.6 706.7,762.6 770.0,787.8 833.3,813.6 896.7,839.7 960.0,866.2 960.0,950.8 896.7,921.9 833.3,893.1 770.0,864.8 706.7,837.9 643.3,812.1 580.0,787.0 516.7,762.5 453.3,738.3 390.0,714.1 326.7,689.8 263.3,665.0 200.0,639.4 136.7,612.9 73.3,585.2 10.0,556.1" fill="#080808"/>
<polygon points="10.0,473.0 73.3,502.4 136.7,531.5 200.0,559.9 263.3,587.3 326.7,613.9 390.0,639.8 453.3,665.2 516.7,690.2 580.0,715.0 643.3,739.8 706.7,764.8 770.0,790.2 833.3,816.0 896.7,842.2 960.0,868.8 960.0,950.8 896.7,921.9 833.3,893.1 770.0,864.8 706.7,837.9 643.3,812.1 580.0,787.0 516.7,762.5 453.3,738.3 390.0,714.1 326.7,689.8 263.3,665.0 200.0,639.4 136.7,612.9 73.3,585.2 10.0,556.1" fill="#080808"/>
<polygon points="10.0,475.6 73.3,505.0 136.7,534.0 200.0,562.4 263.3,589.8 326.7,616.3 390.0,642.1 453.3,667.4 516.7,692.4 580.0,717.3 643.3,742.1 706.7,767.1 770.0,792.5 833.3,818.4 896.7,844.7 960.0,871.4 960.0,950.8 896.7,921.9 833.3,893.1 770.0,864.8 706.7,837.9 643.3,812.1 580.0,787.0 516.7,762.5 453.3,738.3 390.0,714.1 326.7,689.8 263.3,665.0 200.0,639.4 136.7,612.9 73.3,585.2 10.0,556.1" fill="#080808"/>
<polygon points="10.0,478.2 73.3,507.6 136.7,536.6 200.0,564.9 263.3,592.2 326.7,618.6 390.0,644.4 453.3,669.7 516.7,694.7 580.0,719.5 643.3,744.4 706.7,769.4 770.0,794.8 833.3,820.8 896.7,847.2 960.0,873.9 960.0,950.8 896.7,921.9 833.3,893.1 770.0,864.8 706.7,837.9 643.3,812.1 580.0,787.0 516.7,762.5 453.3,738.3 390.0,714.1 326.7,689.8 263.3,665.0 200.0,639.4 136.7,612.9 73.3,585.2 10.0,556.1" fill="#080808"/>
<polygon points="10.0,480.8 73.3,510.2 136.7,539.1 200.0,567.4 263.3,594.6 326.7,621.0 390.0,646.8 453.3,672.0 516.7,697.0 580.0,721.8 643.3,746.6 706.7,771.7 770.0,797.2 833.3,823.2 896.7,849.7 960.0,876.5 960.0,950.8 896.7,921.9 833.3,893.1 770.0,864.8 706.7,837.9 643.3,812.1 580.0,787.0 516.7,762.5 453.3,738.3 390.0,714.1 326.7,689.8 263.3,665.0 200.0,639.4 136.7,612.9 73.3,585.2 10.0,556.1" fill="#070707"/>
<polygon points="10.0,483.4 73.3,512.8 136.7,541.7 200.0,569.8 263.3,597.0 326.7,623.4 390.0,649.1 453.3,674.3 516.7,699.2 580.0,724.0 643.3,748.9 706.7,774.0 770.0,799.5 833.3,825.6 896.7,852.2 960.0,879.0 960.0,950.8 896.7,921.9 833.3,893.1 770.0,864.8 706.7,837.9 643.3,812.1 580.0,787.0 516.7,762.5 453.3,738.3 390.0,714.1 326.7,689.8 263.3,665.0 200.0,639.4 136.7,612.9 73.3,585.2 10.0,556.1" fill="#070707"/>
<polygon points="10.0,486.0 73.3,515.4 136.7,544.2 200.0,572.3 263.3,599.5 326.7,625.8 390.0,651.4 453.3,676.6 516.7,701.5 580.0,726.3 643.3,751.1 706.7,776.3 770.0,801.8 833.3,828.0 896.7,854.7 960.0,881.6 960.0,950.8 896.7,921.9 833.3,893.1 770.0,864.8 706.7,837.9 643.3,812.1 580.0,787.0 516.7,762.5 453.3,738.3 390.0,714.1 326.7,689.8 263.3,665.0 200.0,639.4 136.7,612.9 73.3,585.2 10.0,556.1" fill="#070707"/>
<polygon points="10.0,488.6 73.3,518.0 136.7,546.7 200.0,574.8 263.3,601.9 326.7,628.1 390.0,653.7 453.3,678.9 516.7,703.7 580.0,728.5 643.3,753.4 706.7,778.5 770.0,804.2 833.3,830.4 896.7,857.2 960.0,884.2 960.0,950.8 896.7,921.9 833.3,893.1 770.0,864.8 706.7,837.9 643.3,812.1 580.0,787.0 516.7,762.5 453.3,738.3 390.0,714.1 326.7,689.8 263.3,665.0 200.0,639.4 136.7,612.9 73.3,585.2 10.0,556.1" fill="#070707"/>
<polygon points="10.0,491.2 73.3,520.6 136.7,549.3 200.0,577.3 263.3,604.3 326.7,630.5 390.0,656.1 453.3,681.2 516.7,706.0 580.0,730.8 643.3,755.6 706.7,780.8 770.0,806.5 833.3,832.8 896.7,859.7 960.0,886.7 960.0,950.8 896.7,921.9 833.3,893.1 770.0,864.8 706.7,837.9 643.3,812.1 580.0,787.0 516.7,762.5 453.3,738.3 390.0,714.1 326.7,689.8 263.3,665.0 200.0,639.4 136.7,612.9 73.3,585.2 10.0,556.1" fill="#070707"/>
<polygon points="10.0,493.8 73.3,523.1 136.7,551.8 200.0,579.8 263.3,606.7 326.7,632.9 390.0,658.4 453.3,683.4 516.7,708.3 580.0,733.0 643.3,757.9 706.7,783.1 770.0,808.8 833.3,835.3 896.7,862.1 960.0,889.3 960.0,950.8 896.7,921.9 833.3,893.1 770.0,864.8 706.7,837.9 643.3,812.1 580.0,787.0 516.7,762.5 453.3,738.3 390.0,714.1 326.7,689.8 263.3,665.0 200.0,639.4 136.7,612.9 73.3,585.2 10.0,556.1" fill="#070707"/>
<polygon points="10.0,496.4 73.3,525.7 136.7,554.4 200.0,582.3 263.3,609.2 326.7,635.2 390.0,660.7 453.3,685.7 516.7,710.5 580.0,735.3 643.3,760.2 706.7,785.4 770.0,811.2 833.3,837.7 896.7,864.6 960.0,891.8 960.0,950.8 896.7,921.9 833.3,893.1 770.0,864.8 706.7,837.9 643.3,812.1 580.0,787.0 516.7,762.5 453.3,738.3 390.0,714.1 326.7,689.8 263.3,665.0 200.0,639.4 136.7,612.9 73.3,585.2 10.0,556.1" fill="#070707"/>
<polygon points="10.0,499.0 73.3,528.3 136.7,556.9 200.0,584.8 263.3,611.6 326.7,637.6 390.0,663.0 453.3,688.0 516.7,712.8 580.0,737.5 643.3,762.4 706.7,787.7 770.0,813.5 833.3,840.1 896.7,867.1 960.0,894.4 960.0,950.8 896.7,921.9 833.3,893.1 770.0,864.8 706.7,837.9 643.3,812.1 580.0,787.0 516.7,762.5 453.3,738.3 390.0,714.1 326.7,689.8 263.3,665.0 200.0,639.4 136.7,612.9 73.3,585.2 10.0,556.1" fill="#070707"/>
<polygon points="10.0,501.6 73.3,530.9 136.7,559.5 200.0,587.2 263.3,614.0 326.7,640.0 390.0,665.3 453.3,690.3 516.7,715.0 580.0,739.8 643.3,764.7 706.7,790.0 770.0,815.8 833.3,842.5 896.7,869.6 960.0,897.0 960.0,950.8 896.7,921.9 833.3,893.1 770.0,864.8 706.7,837.9 643.3,812.1 580.0,787.0 516.7,762.5 453.3,738.3 390.0,714.1 326.7,689.8 263.3,665.0 200.0,639.4 136.7,612.9 73.3,585.2 10.0,556.1" fill="#070707"/>
<polygon points="10.0,504.2 73.3,533.5 136.7,562.0 200.0,589.7 263.3,616.4 326.7,642.4 390.0,667.7 453.3,692.6 516.7,717.3 580.0,742.0 643.3,766.9 706.7,792.2 770.0,818.2 833.3,844.9 896.7,872.1 960.0,899.5 960.0,950.8 896.7,921.9 833.3,893.1 770.0,864.8 706.7,837.9 643.3,812.1 580.0,787.0 516.7,762.5 453.3,738.3 390.0,714.1 326.7,689.8 263.3,665.0 200.0,639.4 136.7,612.9 73.3,585.2 10.0,556.1" fill="#060606"/>
<polygon points="10.0,506.8 73.3,536.1 136.7,564.6 200.0,592.2 263.3,618.9 326.7,644.7 390.0,670.0 453.3,694.9 516.7,719.6 580.0,744.3 643.3,769.2 706.7,794.5 770.0,820.5 833.3,847.3 896.7,874.6 960.0,902.1 960.0,950.8 896.7,921.9 833.3,893.1 770.0,864.8 706.7,837.9 643.3,812.1 580.0,787.0 516.7,762.5 453.3,738.3 390.0,714.1 326.7,689.8 263.3,665.0 200.0,639.4 136.7,612.9 73.3,585.2 10.0,556.1" fill="#060606"/>
<polygon points="10.0,509.4 73.3,538.7 136.7,567.1 200.0,594.7 263.3,621.3 326.7,647.1 390.0,672.3 453.3,697.2 516.7,721.8 580.0,746.5 643.3,771.4 706.7,796.8 770.0,822.8 833.3,849.7 896.7,877.1 960.0,904.6 960.0,950.8 896.7,921.9 833.3,893.1 770.0,864.8 706.7,837.9 643.3,812.1 580.0,787.0 516.7,762.5 453.3,738.3 390.0,714.1 326.7,689.8 263.3,665.0 200.0,639.4 136.7,612.9 73.3,585.2 10.0,556.1" fill="#060606"/>
<polygon points="10.0,512.0 73.3,541.3 136.7,569.7 200.0,597.2 263.3,623.7 326.7,649.5 390.0,674.6 453.3,699.4 516.7,724.1 580.0,748.8 643.3,773.7 706.7,799.1 770.0,825.2 833.3,852.1 896.7,879.6 960.0,907.2 960.0,950.8 896.7,921.9 833.3,893.1 770.0,864.8 706.7,837.9 643.3,812.1 580.0,787.0 516.7,762.5 453.3,738.3 390.0,714.1 326.7,689.8 263.3,665.0 200.0,639.4 136.7,612.9 73.3,585.2 10.0,556.1" fill="#060606"/>
<polygon points="10.0,514.6 73.3,543.8 136.7,572.2 200.0,599.7 263.3,626.2 326.7,651.8 390.0,677.0 453.3,701.7 516.7,726.3 580.0,751.0 643.3,775.9 706.7,801.4 770.0,827.5 833.3,854.5 896.7,882.1 960.0,909.8 960.0,950.8 896.7,921.9 833.3,893.1 770.0,864.8 706.7,837.9 643.3,812.1 580.0,787.0 516.7,762.5 453.3,738.3 390.0,714.1 326.7,689.8 263.3,665.0 200.0,639.4 136.7,612.9 73.3,585.2 10.0,556.1" fill="#0e0e0e"/>
<polygon points="10.0,517.2 73.3,546.4 136.7,574.8 200.0,602.2 263.3,628.6 326.7,654.2 390.0,679.3 453.3,704.0 516.7,728.6 580.0,753.3 643.3,778.2 706.7,803.7 770.0,829.8 833.3,856.9 896.7,884.6 960.0,912.3 960.0,950.8 896.7,921.9 833.3,893.1 770.0,864.8 706.7,837.9 643.3,812.1 580.0,787.0 516.7,762.5 453.3,738.3 390.0,714.1 326.7,689.8 263.3,665.0 200.0,639.4 136.7,612.9 73.3,585.2 10.0,556.1" fill="#191919"/>
<polygon points="10.0,519.8 73.3,549.0 136.7,577.3 200.0,604.6 263.3,631.0 326.7,656.6 390.0,681.6 453.3,706.3 516.7,730.9 580.0,755.5 643.3,780.5 706.7,805.9 770.0,832.2 833.3,859.3 896.7,887.0 960.0,914.9 960.0,950.8 896.7,921.9 833.3,893.1 770.0,864.8 706.7,837.9 643.3,812.1 580.0,787.0 516.7,762.5 453.3,738.3 390.0,714.1 326.7,689.8 263.3,665.0 200.0,639.4 136.7,612.9 73.3,585.2 10.0,556.1" fill="#232323"/>
<polygon points="10.0,522.4 73.3,551.6 136.7,579.8 200.0,607.1 263.3,633.4 326.7,659.0 390.0,683.9 453.3,708.6 516.7,733.1 580.0,757.8 643.3,782.7 706.7,808.2 770.0,834.5 833.3,861.8 896.7,889.5 960.0,917.5 960.0,950.8 896.7,921.9 833.3,893.1 770.0,864.8 706.7,837.9 643.3,812.1 580.0,787.0 516.7,762.5 453.3,738.3 390.0,714.1 326.7,689.8 263.3,665.0 200.0,639.4 136.7,612.9 73.3,585.2 10.0,556.1" fill="#262626"/>
<polygon points="10.0,525.0 73.3,554.2 136.7,582.4 200.0,609.6 263.3,635.9 326.7,661.3 390.0,686.3 453.3,710.9 516.7,735.4 580.0,760.0 643.3,785.0 706.7,810.5 770.0,836.8 833.3,864.2 896.7,892.0 960.0,920.0 960.0,950.8 896.7,921.9 833.3,893.1 770.0,864.8 706.7,837.9 643.3,812.1 580.0,787.0 516.7,762.5 453.3,738.3 390.0,714.1 326.7,689.8 263.3,665.0 200.0,639.4 136.7,612.9 73.3,585.2 10.0,556.1" fill="#2a2a2a"/>
<polygon points="10.0,527.6 73.3,556.8 136.7,584.9 200.0,612.1 263.3,638.3 326.7,663.7 390.0,688.6 453.3,713.2 516.7,737.6 580.0,762.3 643.3,787.2 706.7,812.8 770.0,839.2 833.3,866.6 896.7,894.5 960.0,922.6 960.0,950.8 896.7,921.9 833.3,893.1 770.0,864.8 706.7,837.9 643.3,812.1 580.0,787.0 516.7,762.5 453.3,738.3 390.0,714.1 326.7,689.8 263.3,665.0 200.0,639.4 136.7,612.9 73.3,585.2 10.0,556.1" fill="#2e2e2e"/>
<polygon points="10.0,530.2 73.3,559.4 136.7,587.5 200.0,614.6 263.3,640.7 326.7,666.1 390.0,690.9 453.3,715.4 516.7,739.9 580.0,764.5 643.3,789.5 706.7,815.1 770.0,841.5 833.3,869.0 896.7,897.0 960.0,925.1 960.0,950.8 896.7,921.9 833.3,893.1 770.0,864.8 706.7,837.9 643.3,812.1 580.0,787.0 516.7,762.5 453.3,738.3 390.0,714.1 326.7,689.8 263.3,665.0 200.0,639.4 136.7,612.9 73.3,585.2 10.0,556.1" fill="#313131"/>
<polygon points="10.0,532.8 73.3,562.0 136.7,590.0 200.0,617.1 263.3,643.1 326.7,668.4 390.0,693.2 453.3,717.7 516.7,742.2 580.0,766.8 643.3,791.7 706.7,817.4 770.0,843.8 833.3,871.4 896.7,899.5 960.0,927.7 960.0,950.8 896.7,921.9 833.3,893.1 770.0,864.8 706.7,837.9 643.3,812.1 580.0,787.0 516.7,762.5 453.3,738.3 390.0,714.1 326.7,689.8 263.3,665.0 200.0,639.4 136.7,612.9 73.3,585.2 10.0,556.1" fill="#353535"/>
<polygon points="10.0,535.4 73.3,564.5 136.7,592.6 200.0,619.6 263.3,645.6 326.7,670.8 390.0,695.6 453.3,720.0 516.7,744.4 580.0,769.0 643.3,794.0 706.7,819.6 770.0,846.2 833.3,873.8 896.7,902.0 960.0,930.3 960.0,950.8 896.7,921.9 833.3,893.1 770.0,864.8 706.7,837.9 643.3,812.1 580.0,787.0 516.7,762.5 453.3,738.3 390.0,714.1 326.7,689.8 263.3,665.0 200.0,639.4 136.7,612.9 73.3,585.2 10.0,556.1" fill="#393939"/>
<polygon points="10.0,537.9 73.3,567.1 136.7,595.1 200.0,622.0 263.3,648.0 326.7,673.2 390.0,697.9 453.3,722.3 516.7,746.7 580.0,771.3 643.3,796.3 706.7,821.9 770.0,848.5 833.3,876.2 896.7,904.5 960.0,932.8 960.0,950.8 896.7,921.9 833.3,893.1 770.0,864.8 706.7,837.9 643.3,812.1 580.0,787.0 516.7,762.5 453.3,738.3 390.0,714.1 326.7,689.8 263.3,665.0 200.0,639.4 136.7,612.9 73.3,585.2 10.0,556.1" fill="#3e3e3e"/>
<polygon points="10.0,540.5 73.3,569.7 136.7,597.7 200.0,624.5 263.3,650.4 326.7,675.6 390.0,700.2 453.3,724.6 516.7,748.9 580.0,773.5 643.3,798.5 706.7,824.2 770.0,850.8 833.3,878.6 896.7,907.0 960.0,935.4 960.0,950.8 896.7,921.9 833.3,893.1 770.0,864.8 706.7,837.9 643.3,812.1 580.0,787.0 516.7,762.5 453.3,738.3 390.0,714.1 326.7,689.8 263.3,665.0 200.0,639.4 136.7,612.9 73.3,585.2 10.0,556.1" fill="#424242"/>
<polygon points="10.0,543.1 73.3,572.3 136.7,600.2 200.0,627.0 263.3,652.8 326.7,677.9 390.0,702.5 453.3,726.9 516.7,751.2 580.0,775.8 643.3,800.8 706.7,826.5 770.0,853.2 833.3,881.0 896.7,909.5 960.0,937.9 960.0,950.8 896.7,921.9 833.3,893.1 770.0,864.8 706.7,837.9 643.3,812.1 580.0,787.0 516.7,762.5 453.3,738.3 390.0,714.1 326.7,689.8 263.3,665.0 200.0,639.4 136.7,612.9 73.3,585.2 10.0,556.1" fill="#464646"/>
<polygon points="10.0,545.7 73.3,574.9 136.7,602.8 200.0,629.5 263.3,655.3 326.7,680.3 390.0,704.8 453.3,729.2 516.7,753.5 580.0,778.0 643.3,803.0 706.7,828.8 770.0,855.5 833.3,883.4 896.7,911.9 960.0,940.5 960.0,950.8 896.7,921.9 833.3,893.1 770.0,864.8 706.7,837.9 643.3,812.1 580.0,787.0 516.7,762.5 453.3,738.3 390.0,714.1 326.7,689.8 263.3,665.0 200.0,639.4 136.7,612.9 73.3,585.2 10.0,556.1" fill="#4a4a4a"/>
<polygon points="10.0,548.3 73.3,577.5 136.7,605.3 200.0,632.0 263.3,657.7 326.7,682.7 390.0,707.2 453.3,731.4 516.7,755.7 580.0,780.3 643.3,805.3 706.7,831.1 770.0,857.8 833.3,885.8 896.7,914.4 960.0,943.1 960.0,950.8 896.7,921.9 833.3,893.1 770.0,864.8 706.7,837.9 643.3,812.1 580.0,787.0 516.7,762.5 453.3,738.3 390.0,714.1 326.7,689.8 263.3,665.0 200.0,639.4 136.7,612.9 73.3,585.2 10.0,556.1" fill="#525252"/>
<polygon points="10.0,550.9 73.3,580.1 136.7,607.9 200.0,634.5 263.3,660.1 326.7,685.0 390.0,709.5 453.3,733.7 516.7,758.0 580.0,782.5 643.3,807.5 706.7,833.4 770.0,860.2 833.3,888.3 896.7,916.9 960.0,945.6 960.0,950.8 896.7,921.9 833.3,893.1 770.0,864.8 706.7,837.9 643.3,812.1 580.0,787.0 516.7,762.5 453.3,738.3 390.0,714.1 326.7,689.8 263.3,665.0 200.0,639.4 136.7,612.9 73.3,585.2 10.0,556.1" fill="#5c5c5c"/>
<polygon points="10.0,553.5 73.3,582.7 136.7,610.4 200.0,637.0 263.3,662.5 326.7,687.4 390.0,711.8 453.3,736.0 516.7,760.2 580.0,784.8 643.3,809.8 706.7,835.6 770.0,862.5 833.3,890.7 896.7,919.4 960.0,948.2 960.0,950.8 896.7,921.9 833.3,893.1 770.0,864.8 706.7,837.9 643.3,812.1 580.0,787.0 516.7,762.5 453.3,738.3 390.0,714.1 326.7,689.8 263.3,665.0 200.0,639.4 136.7,612.9 73.3,585.2 10.0,556.1" fill="#6c6c6c"/>
<polygon points="20,875 60,879 100,885 135,895 20,895" fill="url(#lgf)"/>
<polygon points="903,500 950,500 950,519" fill="#1c1c1c"/>
</g></g>
<g filter="url(#blur1)"><g clip-path="url(#cpc)">
<rect x="22.0" y="914.5" width="927.8" height="395.3" fill="url(#bgc)"/>
<polygon points="10.0,773.9 73.3,802.6 136.7,831.3 200.0,859.9 263.3,888.6 326.7,917.2 390.0,945.4 453.3,972.4 516.7,998.3 580.0,1023.4 643.3,1047.7 706.7,1071.3 770.0,1094.4 833.3,1117.0 896.7,1139.4 960.0,1161.6 960.0,1276.2 896.7,1250.0 833.3,1224.6 770.0,1199.9 706.7,1175.6 643.3,1151.6 580.0,1127.5 516.7,1103.3 453.3,1078.8 390.0,1053.6 326.7,1027.7 263.3,1000.8 200.0,972.8 136.7,943.4 73.3,912.4 10.0,881.0" fill="#545454"/>
<polygon points="10.0,776.4 73.3,805.1 136.7,833.8 200.0,862.5 263.3,891.1 326.7,919.8 390.0,947.8 453.3,974.8 516.7,1000.7 580.0,1025.8 643.3,1050.0 706.7,1073.7 770.0,1096.8 833.3,1119.5 896.7,1141.9 960.0,1164.2 960.0,1276.2 896.7,1250.0 833.3,1224.6 770.0,1199.9 706.7,1175.6 643.3,1151.6 580.0,1127.5 516.7,1103.3 453.3,1078.8 390.0,1053.6 326.7,1027.7 263.3,1000.8 200.0,972.8 136.7,943.4 73.3,912.4 10.0,881.0" fill="#4c4c4c"/>
<polygon points="10.0,778.8 73.3,807.6 136.7,836.3 200.0,865.0 263.3,893.7 326.7,922.3 390.0,950.3 453.3,977.2 516.7,1003.1 580.0,1028.1 643.3,1052.4 706.7,1076.0 770.0,1099.2 833.3,1121.9 896.7,1144.5 960.0,1166.8 960.0,1276.2 896.7,1250.0 833.3,1224.6 770.0,1199.9 706.7,1175.6 643.3,1151.6 580.0,1127.5 516.7,1103.3 453.3,1078.8 390.0,1053.6 326.7,1027.7 263.3,1000.8 200.0,972.8 136.7,943.4 73.3,912.4 10.0,881.0" fill="#454545"/>
<polygon points="10.0,781.2 73.3,810.1 136.7,838.9 200.0,867.6 263.3,896.2 326.7,924.8 390.0,952.8 453.3,979.6 516.7,1005.5 580.0,1030.5 643.3,1054.8 706.7,1078.4 770.0,1101.6 833.3,1124.4 896.7,1147.0 960.0,1169.4 960.0,1276.2 896.7,1250.0 833.3,1224.6 770.0,1199.9 706.7,1175.6 643.3,1151.6 580.0,1127.5 516.7,1103.3 453.3,1078.8 390.0,1053.6 326.7,1027.7 263.3,1000.8 200.0,972.8 136.7,943.4 73.3,912.4 10.0,881.0" fill="#444444"/>
<polygon points="10.0,783.7 73.3,812.6 136.7,841.4 200.0,870.2 263.3,898.8 326.7,927.3 390.0,955.2 453.3,982.0 516.7,1007.9 580.0,1032.9 643.3,1057.1 706.7,1080.8 770.0,1104.0 833.3,1126.8 896.7,1149.5 960.0,1172.0 960.0,1276.2 896.7,1250.0 833.3,1224.6 770.0,1199.9 706.7,1175.6 643.3,1151.6 580.0,1127.5 516.7,1103.3 453.3,1078.8 390.0,1053.6 326.7,1027.7 263.3,1000.8 200.0,972.8 136.7,943.4 73.3,912.4 10.0,881.0" fill="#424242"/>
<polygon points="10.0,786.1 73.3,815.1 136.7,844.0 200.0,872.7 263.3,901.3 326.7,929.8 390.0,957.7 453.3,984.5 516.7,1010.3 580.0,1035.2 643.3,1059.5 706.7,1083.1 770.0,1106.4 833.3,1129.3 896.7,1152.0 960.0,1174.6 960.0,1276.2 896.7,1250.0 833.3,1224.6 770.0,1199.9 706.7,1175.6 643.3,1151.6 580.0,1127.5 516.7,1103.3 453.3,1078.8 390.0,1053.6 326.7,1027.7 263.3,1000.8 200.0,972.8 136.7,943.4 73.3,912.4 10.0,881.0" fill="#404040"/>
<polygon points="10.0,788.5 73.3,817.6 136.7,846.5 200.0,875.3 263.3,903.9 326.7,932.3 390.0,960.1 453.3,986.9 516.7,1012.6 580.0,1037.6 643.3,1061.8 706.7,1085.5 770.0,1108.8 833.3,1131.7 896.7,1154.5 960.0,1177.3 960.0,1276.2 896.7,1250.0 833.3,1224.6 770.0,1199.9 706.7,1175.6 643.3,1151.6 580.0,1127.5 516.7,1103.3 453.3,1078.8 390.0,1053.6 326.7,1027.7 263.3,1000.8 200.0,972.8 136.7,943.4 73.3,912.4 10.0,881.0" fill="#3e3e3e"/>
<polygon points="10.0,791.0 73.3,820.1 136.7,849.1 200.0,877.9 263.3,906.4 326.7,934.8 390.0,962.6 453.3,989.3 516.7,1015.0 580.0,1040.0 643.3,1064.2 706.7,1087.9 770.0,1111.2 833.3,1134.2 896.7,1157.0 960.0,1179.9 960.0,1276.2 896.7,1250.0 833.3,1224.6 770.0,1199.9 706.7,1175.6 643.3,1151.6 580.0,1127.5 516.7,1103.3 453.3,1078.8 390.0,1053.6 326.7,1027.7 263.3,1000.8 200.0,972.8 136.7,943.4 73.3,912.4 10.0,881.0" fill="#3c3c3c"/>
<polygon points="10.0,793.4 73.3,822.6 136.7,851.6 200.0,880.4 263.3,909.0 326.7,937.3 390.0,965.1 453.3,991.7 516.7,1017.4 580.0,1042.3 643.3,1066.6 706.7,1090.3 770.0,1113.6 833.3,1136.6 896.7,1159.5 960.0,1182.5 960.0,1276.2 896.7,1250.0 833.3,1224.6 770.0,1199.9 706.7,1175.6 643.3,1151.6 580.0,1127.5 516.7,1103.3 453.3,1078.8 390.0,1053.6 326.7,1027.7 263.3,1000.8 200.0,972.8 136.7,943.4 73.3,912.4 10.0,881.0" fill="#3b3b3b"/>
<polygon points="10.0,795.8 73.3,825.1 136.7,854.2 200.0,883.0 263.3,911.5 326.7,939.8 390.0,967.5 453.3,994.1 516.7,1019.8 580.0,1044.7 643.3,1068.9 706.7,1092.6 770.0,1116.0 833.3,1139.1 896.7,1162.0 960.0,1185.1 960.0,1276.2 896.7,1250.0 833.3,1224.6 770.0,1199.9 706.7,1175.6 643.3,1151.6 580.0,1127.5 516.7,1103.3 453.3,1078.8 390.0,1053.6 326.7,1027.7 263.3,1000.8 200.0,972.8 136.7,943.4 73.3,912.4 10.0,881.0" fill="#393939"/>
<polygon points="10.0,798.3 73.3,827.6 136.7,856.7 200.0,885.6 263.3,914.1 326.7,942.4 390.0,970.0 453.3,996.5 516.7,1022.2 580.0,1047.1 643.3,1071.3 706.7,1095.0 770.0,1118.4 833.3,1141.5 896.7,1164.6 960.0,1187.7 960.0,1276.2 896.7,1250.0 833.3,1224.6 770.0,1199.9 706.7,1175.6 643.3,1151.6 580.0,1127.5 516.7,1103.3 453.3,1078.8 390.0,1053.6 326.7,1027.7 263.3,1000.8 200.0,972.8 136.7,943.4 73.3,912.4 10.0,881.0" fill="#363636"/>
<polygon points="10.0,800.7 73.3,830.1 136.7,859.3 200.0,888.1 263.3,916.6 326.7,944.9 390.0,972.4 453.3,999.0 516.7,1024.6 580.0,1049.4 643.3,1073.6 706.7,1097.4 770.0,1120.8 833.3,1143.9 896.7,1167.1 960.0,1190.3 960.0,1276.2 896.7,1250.0 833.3,1224.6 770.0,1199.9 706.7,1175.6 643.3,1151.6 580.0,1127.5 516.7,1103.3 453.3,1078.8 390.0,1053.6 326.7,1027.7 263.3,1000.8 200.0,972.8 136.7,943.4 73.3,912.4 10.0,881.0" fill="#343434"/>
<polygon points="10.0,803.1 73.3,832.5 136.7,861.8 200.0,890.7 263.3,919.2 326.7,947.4 390.0,974.9 453.3,1001.4 516.7,1027.0 580.0,1051.8 643.3,1076.0 706.7,1099.7 770.0,1123.2 833.3,1146.4 896.7,1169.6 960.0,1192.9 960.0,1276.2 896.7,1250.0 833.3,1224.6 770.0,1199.9 706.7,1175.6 643.3,1151.6 580.0,1127.5 516.7,1103.3 453.3,1078.8 390.0,1053.6 326.7,1027.7 263.3,1000.8 200.0,972.8 136.7,943.4 73.3,912.4 10.0,881.0" fill="#323232"/>
<polygon points="10.0,805.6 73.3,835.0 136.7,864.4 200.0,893.3 263.3,921.7 326.7,949.9 390.0,977.4 453.3,1003.8 516.7,1029.4 580.0,1054.2 643.3,1078.4 706.7,1102.1 770.0,1125.6 833.3,1148.8 896.7,1172.1 960.0,1195.5 960.0,1276.2 896.7,1250.0 833.3,1224.6 770.0,1199.9 706.7,1175.6 643.3,1151.6 580.0,1127.5 516.7,1103.3 453.3,1078.8 390.0,1053.6 326.7,1027.7 263.3,1000.8 200.0,972.8 136.7,943.4 73.3,912.4 10.0,881.0" fill="#303030"/>
<polygon points="10.0,808.0 73.3,837.5 136.7,866.9 200.0,895.8 263.3,924.3 326.7,952.4 390.0,979.8 453.3,1006.2 516.7,1031.7 580.0,1056.5 643.3,1080.7 706.7,1104.5 770.0,1128.0 833.3,1151.3 896.7,1174.6 960.0,1198.1 960.0,1276.2 896.7,1250.0 833.3,1224.6 770.0,1199.9 706.7,1175.6 643.3,1151.6 580.0,1127.5 516.7,1103.3 453.3,1078.8 390.0,1053.6 326.7,1027.7 263.3,1000.8 200.0,972.8 136.7,943.4 73.3,912.4 10.0,881.0" fill="#2e2e2e"/>
<polygon points="10.0,810.4 73.3,840.0 136.7,869.5 200.0,898.4 263.3,926.9 326.7,954.9 390.0,982.3 453.3,1008.6 516.7,1034.1 580.0,1058.9 643.3,1083.1 706.7,1106.9 770.0,1130.4 833.3,1153.7 896.7,1177.1 960.0,1200.7 960.0,1276.2 896.7,1250.0 833.3,1224.6 770.0,1199.9 706.7,1175.6 643.3,1151.6 580.0,1127.5 516.7,1103.3 453.3,1078.8 390.0,1053.6 326.7,1027.7 263.3,1000.8 200.0,972.8 136.7,943.4 73.3,912.4 10.0,881.0" fill="#191919"/>
<polygon points="10.0,812.9 73.3,842.5 136.7,872.0 200.0,901.0 263.3,929.4 326.7,957.4 390.0,984.7 453.3,1011.1 516.7,1036.5 580.0,1061.3 643.3,1085.4 706.7,1109.2 770.0,1132.8 833.3,1156.2 896.7,1179.6 960.0,1203.3 960.0,1276.2 896.7,1250.0 833.3,1224.6 770.0,1199.9 706.7,1175.6 643.3,1151.6 580.0,1127.5 516.7,1103.3 453.3,1078.8 390.0,1053.6 326.7,1027.7 263.3,1000.8 200.0,972.8 136.7,943.4 73.3,912.4 10.0,881.0" fill="#080808"/>
<polygon points="10.0,815.3 73.3,845.0 136.7,874.6 200.0,903.5 263.3,932.0 326.7,959.9 390.0,987.2 453.3,1013.5 516.7,1038.9 580.0,1063.6 643.3,1087.8 706.7,1111.6 770.0,1135.2 833.3,1158.6 896.7,1182.1 960.0,1205.9 960.0,1276.2 896.7,1250.0 833.3,1224.6 770.0,1199.9 706.7,1175.6 643.3,1151.6 580.0,1127.5 516.7,1103.3 453.3,1078.8 390.0,1053.6 326.7,1027.7 263.3,1000.8 200.0,972.8 136.7,943.4 73.3,912.4 10.0,881.0" fill="#080808"/>
<polygon points="10.0,817.7 73.3,847.5 136.7,877.1 200.0,906.1 263.3,934.5 326.7,962.4 390.0,989.7 453.3,1015.9 516.7,1041.3 580.0,1066.0 643.3,1090.2 706.7,1114.0 770.0,1137.6 833.3,1161.1 896.7,1184.7 960.0,1208.5 960.0,1276.2 896.7,1250.0 833.3,1224.6 770.0,1199.9 706.7,1175.6 643.3,1151.6 580.0,1127.5 516.7,1103.3 453.3,1078.8 390.0,1053.6 326.7,1027.7 263.3,1000.8 200.0,972.8 136.7,943.4 73.3,912.4 10.0,881.0" fill="#080808"/>
<polygon points="10.0,820.2 73.3,850.0 136.7,879.7 200.0,908.7 263.3,937.1 326.7,965.0 390.0,992.1 453.3,1018.3 516.7,1043.7 580.0,1068.4 643.3,1092.5 706.7,1116.3 770.0,1139.9 833.3,1163.5 896.7,1187.2 960.0,1211.1 960.0,1276.2 896.7,1250.0 833.3,1224.6 770.0,1199.9 706.7,1175.6 643.3,1151.6 580.0,1127.5 516.7,1103.3 453.3,1078.8 390.0,1053.6 326.7,1027.7 263.3,1000.8 200.0,972.8 136.7,943.4 73.3,912.4 10.0,881.0" fill="#080808"/>
<polygon points="10.0,822.6 73.3,852.5 136.7,882.2 200.0,911.2 263.3,939.6 326.7,967.5 390.0,994.6 453.3,1020.7 516.7,1046.1 580.0,1070.7 643.3,1094.9 706.7,1118.7 770.0,1142.3 833.3,1166.0 896.7,1189.7 960.0,1213.7 960.0,1276.2 896.7,1250.0 833.3,1224.6 770.0,1199.9 706.7,1175.6 643.3,1151.6 580.0,1127.5 516.7,1103.3 453.3,1078.8 390.0,1053.6 326.7,1027.7 263.3,1000.8 200.0,972.8 136.7,943.4 73.3,912.4 10.0,881.0" fill="#080808"/>
<polygon points="10.0,825.0 73.3,855.0 136.7,884.8 200.0,913.8 263.3,942.2 326.7,970.0 390.0,997.0 453.3,1023.1 516.7,1048.4 580.0,1073.1 643.3,1097.3 706.7,1121.1 770.0,1144.7 833.3,1168.4 896.7,1192.2 960.0,1216.3 960.0,1276.2 896.7,1250.0 833.3,1224.6 770.0,1199.9 706.7,1175.6 643.3,1151.6 580.0,1127.5 516.7,1103.3 453.3,1078.8 390.0,1053.6 326.7,1027.7 263.3,1000.8 200.0,972.8 136.7,943.4 73.3,912.4 10.0,881.0" fill="#080808"/>
<polygon points="10.0,827.5 73.3,857.5 136.7,887.3 200.0,916.4 263.3,944.7 326.7,972.5 390.0,999.5 453.3,1025.6 516.7,1050.8 580.0,1075.5 643.3,1099.6 706.7,1123.5 770.0,1147.1 833.3,1170.8 896.7,1194.7 960.0,1218.9 960.0,1276.2 896.7,1250.0 833.3,1224.6 770.0,1199.9 706.7,1175.6 643.3,1151.6 580.0,1127.5 516.7,1103.3 453.3,1078.8 390.0,1053.6 326.7,1027.7 263.3,1000.8 200.0,972.8 136.7,943.4 73.3,912.4 10.0,881.0" fill="#080808"/>
<polygon points="10.0,829.9 73.3,860.0 136.7,889.9 200.0,918.9 263.3,947.3 326.7,975.0 390.0,1002.0 453.3,1028.0 516.7,1053.2 580.0,1077.8 643.3,1102.0 706.7,1125.8 770.0,1149.5 833.3,1173.3 896.7,1197.2 960.0,1221.5 960.0,1276.2 896.7,1250.0 833.3,1224.6 770.0,1199.9 706.7,1175.6 643.3,1151.6 580.0,1127.5 516.7,1103.3 453.3,1078.8 390.0,1053.6 326.7,1027.7 263.3,1000.8 200.0,972.8 136.7,943.4 73.3,912.4 10.0,881.0" fill="#080808"/>
<polygon points="10.0,832.3 73.3,862.5 136.7,892.4 200.0,921.5 263.3,949.8 326.7,977.5 390.0,1004.4 453.3,1030.4 516.7,1055.6 580.0,1080.2 643.3,1104.3 706.7,1128.2 770.0,1151.9 833.3,1175.7 896.7,1199.7 960.0,1224.1 960.0,1276.2 896.7,1250.0 833.3,1224.6 770.0,1199.9 706.7,1175.6 643.3,1151.6 580.0,1127.5 516.7,1103.3 453.3,1078.8 390.0,1053.6 326.7,1027.7 263.3,1000.8 200.0,972.8 136.7,943.4 73.3,912.4 10.0,881.0" fill="#080808"/>
<polygon points="10.0,834.8 73.3,865.0 136.7,895.0 200.0,924.1 263.3,952.4 326.7,980.0 390.0,1006.9 453.3,1032.8 516.7,1058.0 580.0,1082.6 643.3,1106.7 706.7,1130.6 770.0,1154.3 833.3,1178.2 896.7,1202.3 960.0,1226.7 960.0,1276.2 896.7,1250.0 833.3,1224.6 770.0,1199.9 706.7,1175.6 643.3,1151.6 580.0,1127.5 516.7,1103.3 453.3,1078.8 390.0,1053.6 326.7,1027.7 263.3,1000.8 200.0,972.8 136.7,943.4 73.3,912.4 10.0,881.0" fill="#080808"/>
<polygon points="10.0,837.2 73.3,867.5 136.7,897.5 200.0,926.6 263.3,954.9 326.7,982.5 390.0,1009.3 453.3,1035.2 516.7,1060.4 580.0,1084.9 643.3,1109.1 706.7,1132.9 770.0,1156.7 833.3,1180.6 896.7,1204.8 960.0,1229.3 960.0,1276.2 896.7,1250.0 833.3,1224.6 770.0,1199.9 706.7,1175.6 643.3,1151.6 580.0,1127.5 516.7,1103.3 453.3,1078.8 390.0,1053.6 326.7,1027.7 263.3,1000.8 200.0,972.8 136.7,943.4 73.3,912.4 10.0,881.0" fill="#080808"/>
<polygon points="10.0,839.6 73.3,870.0 136.7,900.1 200.0,929.2 263.3,957.5 326.7,985.0 390.0,1011.8 453.3,1037.7 516.7,1062.8 580.0,1087.3 643.3,1111.4 706.7,1135.3 770.0,1159.1 833.3,1183.1 896.7,1207.3 960.0,1231.9 960.0,1276.2 896.7,1250.0 833.3,1224.6 770.0,1199.9 706.7,1175.6 643.3,1151.6 580.0,1127.5 516.7,1103.3 453.3,1078.8 390.0,1053.6 326.7,1027.7 263.3,1000.8 200.0,972.8 136.7,943.4 73.3,912.4 10.0,881.0" fill="#080808"/>
<polygon points="10.0,842.1 73.3,872.5 136.7,902.6 200.0,931.8 263.3,960.0 326.7,987.5 390.0,1014.3 453.3,1040.1 516.7,1065.1 580.0,1089.7 643.3,1113.8 706.7,1137.7 770.0,1161.5 833.3,1185.5 896.7,1209.8 960.0,1234.5 960.0,1276.2 896.7,1250.0 833.3,1224.6 770.0,1199.9 706.7,1175.6 643.3,1151.6 580.0,1127.5 516.7,1103.3 453.3,1078.8 390.0,1053.6 326.7,1027.7 263.3,1000.8 200.0,972.8 136.7,943.4 73.3,912.4 10.0,881.0" fill="#171717"/>
<polygon points="10.0,844.5 73.3,875.0 136.7,905.2 200.0,934.3 263.3,962.6 326.7,990.1 390.0,1016.7 453.3,1042.5 516.7,1067.5 580.0,1092.0 643.3,1116.1 706.7,1140.0 770.0,1163.9 833.3,1188.0 896.7,1212.3 960.0,1237.1 960.0,1276.2 896.7,1250.0 833.3,1224.6 770.0,1199.9 706.7,1175.6 643.3,1151.6 580.0,1127.5 516.7,1103.3 453.3,1078.8 390.0,1053.6 326.7,1027.7 263.3,1000.8 200.0,972.8 136.7,943.4 73.3,912.4 10.0,881.0" fill="#2a2a2a"/>
<polygon points="10.0,846.9 73.3,877.5 136.7,907.7 200.0,936.9 263.3,965.1 326.7,992.6 390.0,1019.2 453.3,1044.9 516.7,1069.9 580.0,1094.4 643.3,1118.5 706.7,1142.4 770.0,1166.3 833.3,1190.4 896.7,1214.8 960.0,1239.7 960.0,1276.2 896.7,1250.0 833.3,1224.6 770.0,1199.9 706.7,1175.6 643.3,1151.6 580.0,1127.5 516.7,1103.3 453.3,1078.8 390.0,1053.6 326.7,1027.7 263.3,1000.8 200.0,972.8 136.7,943.4 73.3,912.4 10.0,881.0" fill="#2c2c2c"/>
<polygon points="10.0,849.4 73.3,880.0 136.7,910.3 200.0,939.4 263.3,967.7 326.7,995.1 390.0,1021.6 453.3,1047.3 516.7,1072.3 580.0,1096.8 643.3,1120.9 706.7,1144.8 770.0,1168.7 833.3,1192.8 896.7,1217.3 960.0,1242.3 960.0,1276.2 896.7,1250.0 833.3,1224.6 770.0,1199.9 706.7,1175.6 643.3,1151.6 580.0,1127.5 516.7,1103.3 453.3,1078.8 390.0,1053.6 326.7,1027.7 263.3,1000.8 200.0,972.8 136.7,943.4 73.3,912.4 10.0,881.0" fill="#2e2e2e"/>
<polygon points="10.0,851.8 73.3,882.5 136.7,912.8 200.0,942.0 263.3,970.2 326.7,997.6 390.0,1024.1 453.3,1049.7 516.7,1074.7 580.0,1099.1 643.3,1123.2 706.7,1147.2 770.0,1171.1 833.3,1195.3 896.7,1219.8 960.0,1244.9 960.0,1276.2 896.7,1250.0 833.3,1224.6 770.0,1199.9 706.7,1175.6 643.3,1151.6 580.0,1127.5 516.7,1103.3 453.3,1078.8 390.0,1053.6 326.7,1027.7 263.3,1000.8 200.0,972.8 136.7,943.4 73.3,912.4 10.0,881.0" fill="#313131"/>
<polygon points="10.0,854.2 73.3,885.0 136.7,915.3 200.0,944.6 263.3,972.8 326.7,1000.1 390.0,1026.6 453.3,1052.2 516.7,1077.1 580.0,1101.5 643.3,1125.6 706.7,1149.5 770.0,1173.5 833.3,1197.7 896.7,1222.4 960.0,1247.5 960.0,1276.2 896.7,1250.0 833.3,1224.6 770.0,1199.9 706.7,1175.6 643.3,1151.6 580.0,1127.5 516.7,1103.3 453.3,1078.8 390.0,1053.6 326.7,1027.7 263.3,1000.8 200.0,972.8 136.7,943.4 73.3,912.4 10.0,881.0" fill="#333333"/>
<polygon points="10.0,856.7 73.3,887.5 136.7,917.9 200.0,947.1 263.3,975.3 326.7,1002.6 390.0,1029.0 453.3,1054.6 516.7,1079.5 580.0,1103.9 643.3,1127.9 706.7,1151.9 770.0,1175.9 833.3,1200.2 896.7,1224.9 960.0,1250.1 960.0,1276.2 896.7,1250.0 833.3,1224.6 770.0,1199.9 706.7,1175.6 643.3,1151.6 580.0,1127.5 516.7,1103.3 453.3,1078.8 390.0,1053.6 326.7,1027.7 263.3,1000.8 200.0,972.8 136.7,943.4 73.3,912.4 10.0,881.0" fill="#353535"/>
<polygon points="10.0,859.1 73.3,890.0 136.7,920.4 200.0,949.7 263.3,977.9 326.7,1005.1 390.0,1031.5 453.3,1057.0 516.7,1081.9 580.0,1106.2 643.3,1130.3 706.7,1154.3 770.0,1178.3 833.3,1202.6 896.7,1227.4 960.0,1252.7 960.0,1276.2 896.7,1250.0 833.3,1224.6 770.0,1199.9 706.7,1175.6 643.3,1151.6 580.0,1127.5 516.7,1103.3 453.3,1078.8 390.0,1053.6 326.7,1027.7 263.3,1000.8 200.0,972.8 136.7,943.4 73.3,912.4 10.0,881.0" fill="#373737"/>
<polygon points="10.0,861.5 73.3,892.5 136.7,923.0 200.0,952.3 263.3,980.4 326.7,1007.6 390.0,1033.9 453.3,1059.4 516.7,1084.2 580.0,1108.6 643.3,1132.7 706.7,1156.6 770.0,1180.7 833.3,1205.1 896.7,1229.9 960.0,1255.3 960.0,1276.2 896.7,1250.0 833.3,1224.6 770.0,1199.9 706.7,1175.6 643.3,1151.6 580.0,1127.5 516.7,1103.3 453.3,1078.8 390.0,1053.6 326.7,1027.7 263.3,1000.8 200.0,972.8 136.7,943.4 73.3,912.4 10.0,881.0" fill="#393939"/>
<polygon points="10.0,864.0 73.3,895.0 136.7,925.5 200.0,954.8 263.3,983.0 326.7,1010.1 390.0,1036.4 453.3,1061.8 516.7,1086.6 580.0,1111.0 643.3,1135.0 706.7,1159.0 770.0,1183.1 833.3,1207.5 896.7,1232.4 960.0,1257.9 960.0,1276.2 896.7,1250.0 833.3,1224.6 770.0,1199.9 706.7,1175.6 643.3,1151.6 580.0,1127.5 516.7,1103.3 453.3,1078.8 390.0,1053.6 326.7,1027.7 263.3,1000.8 200.0,972.8 136.7,943.4 73.3,912.4 10.0,881.0" fill="#3b3b3b"/>
<polygon points="10.0,866.4 73.3,897.5 136.7,928.1 200.0,957.4 263.3,985.5 326.7,1012.7 390.0,1038.9 453.3,1064.3 516.7,1089.0 580.0,1113.3 643.3,1137.4 706.7,1161.4 770.0,1185.5 833.3,1210.0 896.7,1234.9 960.0,1260.5 960.0,1276.2 896.7,1250.0 833.3,1224.6 770.0,1199.9 706.7,1175.6 643.3,1151.6 580.0,1127.5 516.7,1103.3 453.3,1078.8 390.0,1053.6 326.7,1027.7 263.3,1000.8 200.0,972.8 136.7,943.4 73.3,912.4 10.0,881.0" fill="#3e3e3e"/>
<polygon points="10.0,868.8 73.3,900.0 136.7,930.6 200.0,960.0 263.3,988.1 326.7,1015.2 390.0,1041.3 453.3,1066.7 516.7,1091.4 580.0,1115.7 643.3,1139.7 706.7,1163.8 770.0,1187.9 833.3,1212.4 896.7,1237.4 960.0,1263.1 960.0,1276.2 896.7,1250.0 833.3,1224.6 770.0,1199.9 706.7,1175.6 643.3,1151.6 580.0,1127.5 516.7,1103.3 453.3,1078.8 390.0,1053.6 326.7,1027.7 263.3,1000.8 200.0,972.8 136.7,943.4 73.3,912.4 10.0,881.0" fill="#404040"/>
<polygon points="10.0,871.3 73.3,902.4 136.7,933.2 200.0,962.5 263.3,990.6 326.7,1017.7 390.0,1043.8 453.3,1069.1 516.7,1093.8 580.0,1118.1 643.3,1142.1 706.7,1166.1 770.0,1190.3 833.3,1214.9 896.7,1239.9 960.0,1265.8 960.0,1276.2 896.7,1250.0 833.3,1224.6 770.0,1199.9 706.7,1175.6 643.3,1151.6 580.0,1127.5 516.7,1103.3 453.3,1078.8 390.0,1053.6 326.7,1027.7 263.3,1000.8 200.0,972.8 136.7,943.4 73.3,912.4 10.0,881.0" fill="#464646"/>
<polygon points="10.0,873.7 73.3,904.9 136.7,935.7 200.0,965.1 263.3,993.2 326.7,1020.2 390.0,1046.2 453.3,1071.5 516.7,1096.2 580.0,1120.4 643.3,1144.5 706.7,1168.5 770.0,1192.7 833.3,1217.3 896.7,1242.5 960.0,1268.4 960.0,1276.2 896.7,1250.0 833.3,1224.6 770.0,1199.9 706.7,1175.6 643.3,1151.6 580.0,1127.5 516.7,1103.3 453.3,1078.8 390.0,1053.6 326.7,1027.7 263.3,1000.8 200.0,972.8 136.7,943.4 73.3,912.4 10.0,881.0" fill="#4e4e4e"/>
<polygon points="10.0,876.1 73.3,907.4 136.7,938.3 200.0,967.7 263.3,995.7 326.7,1022.7 390.0,1048.7 453.3,1073.9 516.7,1098.6 580.0,1122.8 643.3,1146.8 706.7,1170.9 770.0,1195.1 833.3,1219.7 896.7,1245.0 960.0,1271.0 960.0,1276.2 896.7,1250.0 833.3,1224.6 770.0,1199.9 706.7,1175.6 643.3,1151.6 580.0,1127.5 516.7,1103.3 453.3,1078.8 390.0,1053.6 326.7,1027.7 263.3,1000.8 200.0,972.8 136.7,943.4 73.3,912.4 10.0,881.0" fill="#555555"/>
<polygon points="10.0,878.6 73.3,909.9 136.7,940.8 200.0,970.2 263.3,998.3 326.7,1025.2 390.0,1051.2 453.3,1076.3 516.7,1100.9 580.0,1125.2 643.3,1149.2 706.7,1173.2 770.0,1197.5 833.3,1222.2 896.7,1247.5 960.0,1273.6 960.0,1276.2 896.7,1250.0 833.3,1224.6 770.0,1199.9 706.7,1175.6 643.3,1151.6 580.0,1127.5 516.7,1103.3 453.3,1078.8 390.0,1053.6 326.7,1027.7 263.3,1000.8 200.0,972.8 136.7,943.4 73.3,912.4 10.0,881.0" fill="#646464"/>
<polygon points="722,915 950,915 950,956" fill="url(#lgc)"/>
</g></g>
<g filter="url(#blurT)"><rect x="28.5" y="479.1" width="916.1" height="19.9" fill="#ffffff" stroke="#b4b4b4" stroke-width="1.4"/><line x1="125.7" y1="479.4" x2="125.7" y2="498.7" stroke="#a0a0a0" stroke-width="1.4"/><line x1="205.0" y1="479.4" x2="205.0" y2="498.7" stroke="#a0a0a0" stroke-width="1.4"/><line x1="417.7" y1="479.4" x2="417.7" y2="498.7" stroke="#a0a0a0" stroke-width="1.4"/><line x1="498.4" y1="479.4" x2="498.4" y2="498.7" stroke="#a0a0a0" stroke-width="1.4"/><line x1="498.4" y1="488.6" x2="945.3" y2="488.6" stroke="#cfcfcf" stroke-width="1.3"/><path d="M45.5 479.9 h7 v12 h4 v5.5 h-18.5 v-5 h7.5 z" fill="#2a2a2a"/><path d="M33 486.9 h13 v4.5 h-13 z" fill="#777"/><text x="69.0" y="487.0" class="mono" font-size="10.5" fill="#808080" textLength="51.0" lengthAdjust="spacingAndGlyphs">型号规</text><text x="68.0" y="497.5" class="mono" font-size="10.5" fill="#808080" textLength="52.0" lengthAdjust="spacingAndGlyphs">H-7650</text><text x="131.0" y="487.0" class="mono" font-size="10.5" fill="#808080" textLength="68.5" lengthAdjust="spacingAndGlyphs">加速电压</text><text x="142.7" y="497.5" class="mono" font-size="10.5" fill="#808080" textLength="45.3" lengthAdjust="spacingAndGlyphs">80 kV</text><text x="208.6" y="487.0" class="mono" font-size="10.5" fill="#808080" textLength="204.4" lengthAdjust="spacingAndGlyphs">Horizontal Field Width</text><text x="274.5" y="497.5" class="mono" font-size="10.5" fill="#808080" textLength="75.0" lengthAdjust="spacingAndGlyphs">608.7 nm</text><text x="422.0" y="487.0" class="mono" font-size="10.5" fill="#808080" textLength="70.7" lengthAdjust="spacingAndGlyphs">放大倍率</text><text x="422.0" y="497.5" class="mono" font-size="10.5" fill="#808080" textLength="70.7" lengthAdjust="spacingAndGlyphs">200000 x</text><line x1="656.0" y1="494.2" x2="693.6" y2="494.2" stroke="#777" stroke-width="1.6"/><line x1="750.5" y1="494.2" x2="789.0" y2="494.2" stroke="#777" stroke-width="1.6"/><text x="697.0" y="497.7" class="mono" font-size="10.5" fill="#777" textLength="53.0" lengthAdjust="spacingAndGlyphs">100 nm</text></g>
<g filter="url(#blurT)"><rect x="27.7" y="892.0" width="916.4" height="19.3" fill="#ececec" stroke="#b4b4b4" stroke-width="1.4"/><line x1="125.7" y1="892.3" x2="125.7" y2="911.0" stroke="#a0a0a0" stroke-width="1.4"/><line x1="205.0" y1="892.3" x2="205.0" y2="911.0" stroke="#a0a0a0" stroke-width="1.4"/><line x1="417.7" y1="892.3" x2="417.7" y2="911.0" stroke="#a0a0a0" stroke-width="1.4"/><line x1="498.4" y1="892.3" x2="498.4" y2="911.0" stroke="#a0a0a0" stroke-width="1.4"/><line x1="498.4" y1="901.2" x2="944.8" y2="901.2" stroke="#cfcfcf" stroke-width="1.3"/><path d="M45.5 892.8 h7 v12 h4 v5.5 h-18.5 v-5 h7.5 z" fill="#2a2a2a"/><path d="M33 899.8 h13 v4.5 h-13 z" fill="#777"/><text x="69.0" y="899.8" class="mono" font-size="10.5" fill="#808080" textLength="51.0" lengthAdjust="spacingAndGlyphs">型号规</text><text x="68.0" y="909.9" class="mono" font-size="10.5" fill="#808080" textLength="52.0" lengthAdjust="spacingAndGlyphs">H-7650</text><text x="131.0" y="899.8" class="mono" font-size="10.5" fill="#808080" textLength="68.5" lengthAdjust="spacingAndGlyphs">加速电压</text><text x="142.7" y="909.9" class="mono" font-size="10.5" fill="#808080" textLength="45.3" lengthAdjust="spacingAndGlyphs">80 kV</text><text x="208.6" y="899.8" class="mono" font-size="10.5" fill="#808080" textLength="204.4" lengthAdjust="spacingAndGlyphs">Horizontal Field Width</text><text x="274.5" y="909.9" class="mono" font-size="10.5" fill="#808080" textLength="75.0" lengthAdjust="spacingAndGlyphs">988 nm</text><text x="422.0" y="899.8" class="mono" font-size="10.5" fill="#808080" textLength="70.7" lengthAdjust="spacingAndGlyphs">放大倍率</text><text x="422.0" y="909.9" class="mono" font-size="10.5" fill="#808080" textLength="70.7" lengthAdjust="spacingAndGlyphs">130000 x</text><line x1="627.0" y1="906.6" x2="693.0" y2="906.6" stroke="#777" stroke-width="1.6"/><line x1="750.0" y1="906.6" x2="816.0" y2="906.6" stroke="#777" stroke-width="1.6"/><text x="695.0" y="910.1" class="mono" font-size="10.5" fill="#777" textLength="55.0" lengthAdjust="spacingAndGlyphs">200 nm</text></g>
<g filter="url(#blurT)"><rect x="27.7" y="1305.5" width="916.4" height="21.3" fill="#e8e8e8" stroke="#b4b4b4" stroke-width="1.4"/><line x1="125.7" y1="1305.8" x2="125.7" y2="1326.5" stroke="#a0a0a0" stroke-width="1.4"/><line x1="205.0" y1="1305.8" x2="205.0" y2="1326.5" stroke="#a0a0a0" stroke-width="1.4"/><line x1="417.7" y1="1305.8" x2="417.7" y2="1326.5" stroke="#a0a0a0" stroke-width="1.4"/><line x1="498.4" y1="1305.8" x2="498.4" y2="1326.5" stroke="#a0a0a0" stroke-width="1.4"/><line x1="498.4" y1="1315.7" x2="944.8" y2="1315.7" stroke="#cfcfcf" stroke-width="1.3"/><path d="M45.5 1306.3 h7 v12 h4 v5.5 h-18.5 v-5 h7.5 z" fill="#2a2a2a"/><path d="M33 1313.3 h13 v4.5 h-13 z" fill="#777"/><text x="69.0" y="1313.8" class="mono" font-size="10.5" fill="#808080" textLength="51.0" lengthAdjust="spacingAndGlyphs">型号规</text><text x="68.0" y="1324.9" class="mono" font-size="10.5" fill="#808080" textLength="52.0" lengthAdjust="spacingAndGlyphs">H-7650</text><text x="131.0" y="1313.8" class="mono" font-size="10.5" fill="#808080" textLength="68.5" lengthAdjust="spacingAndGlyphs">加速电压</text><text x="142.7" y="1324.9" class="mono" font-size="10.5" fill="#808080" textLength="45.3" lengthAdjust="spacingAndGlyphs">80 kV</text><text x="208.6" y="1313.8" class="mono" font-size="10.5" fill="#808080" textLength="204.4" lengthAdjust="spacingAndGlyphs">Horizontal Field Width</text><text x="274.5" y="1324.9" class="mono" font-size="10.5" fill="#808080" textLength="75.0" lengthAdjust="spacingAndGlyphs">988 nm</text><text x="422.0" y="1313.8" class="mono" font-size="10.5" fill="#808080" textLength="70.7" lengthAdjust="spacingAndGlyphs">放大倍率</text><text x="422.0" y="1324.9" class="mono" font-size="10.5" fill="#808080" textLength="70.7" lengthAdjust="spacingAndGlyphs">130000 x</text><line x1="627.0" y1="1321.6" x2="693.0" y2="1321.6" stroke="#777" stroke-width="1.6"/><line x1="750.0" y1="1321.6" x2="816.0" y2="1321.6" stroke="#777" stroke-width="1.6"/><text x="695.0" y="1325.1" class="mono" font-size="10.5" fill="#777" textLength="55.0" lengthAdjust="spacingAndGlyphs">200 nm</text></g>
<g filter="url(#blurT)">
<rect x="107.5" y="444" width="126.5" height="4.6" fill="#222"/>
<text x="106" y="439.5" font-size="27" fill="#1e1e1e" stroke="#1e1e1e" stroke-width="0.7" lengthAdjust="spacingAndGlyphs" textLength="126">100nm</text>
<rect x="104" y="856.2" width="192.5" height="4.6" fill="#222"/>
<text x="130" y="850" font-size="27" fill="#1e1e1e" stroke="#1e1e1e" stroke-width="0.7" lengthAdjust="spacingAndGlyphs" textLength="126">200nm</text>
<rect x="107.5" y="1270.6" width="187.5" height="4.6" fill="#222"/>
<text x="139.5" y="1264.7" font-size="27" fill="#1e1e1e" stroke="#1e1e1e" stroke-width="0.7" lengthAdjust="spacingAndGlyphs" textLength="126">200nm</text>
<text x="900.5" y="118" font-size="32" fill="#1e1e1e" stroke="#1e1e1e" stroke-width="0.7" lengthAdjust="spacingAndGlyphs" textLength="31">a</text>
<text x="901.5" y="537" font-size="32" fill="#1e1e1e" stroke="#1e1e1e" stroke-width="0.7" lengthAdjust="spacingAndGlyphs" textLength="31">b</text>
<text x="900.5" y="946" font-size="32" fill="#f4f4f4" stroke="#f4f4f4" stroke-width="0.7" lengthAdjust="spacingAndGlyphs" textLength="31">c</text>
</g>
<g filter="url(#blurH)">
<text class="ser" x="401.8" y="71.4" font-size="59" fill="#0c0c0c" textLength="94" lengthAdjust="spacingAndGlyphs">(A)</text>
<text class="ser" x="1460.2" y="67.2" font-size="58" fill="#0c0c0c" textLength="90" lengthAdjust="spacingAndGlyphs">(B)</text>
</g>
<g filter="url(#blurC)">
<path d="M2176.0 133.6 V1179.6" fill="none" stroke="#2c2c2c" stroke-width="4.2"/>
<path d="M1116.6 133.6 H2178.2" fill="none" stroke="#161616" stroke-width="5.6"/>
<path d="M1119.2 133.6 V1179.6" fill="none" stroke="#161616" stroke-width="5.4"/>
<path d="M1116.6 1179.6 H2178.2" fill="none" stroke="#161616" stroke-width="5.8"/>
<text transform="translate(1103.0 1195.0) scale(0.775 1)" font-size="50" text-anchor="end" fill="#161616" font-weight="bold">0</text>
<line x1="1119.2" y1="1040.1" x2="1133.7" y2="1040.1" stroke="#161616" stroke-width="4.8"/>
<text transform="translate(1103.0 1055.6) scale(0.775 1)" font-size="50" text-anchor="end" fill="#161616" font-weight="bold">10</text>
<line x1="1119.2" y1="900.7" x2="1133.7" y2="900.7" stroke="#161616" stroke-width="4.8"/>
<text transform="translate(1103.0 916.2) scale(0.775 1)" font-size="50" text-anchor="end" fill="#161616" font-weight="bold">20</text>
<line x1="1119.2" y1="761.3" x2="1133.7" y2="761.3" stroke="#161616" stroke-width="4.8"/>
<text transform="translate(1103.0 776.8) scale(0.775 1)" font-size="50" text-anchor="end" fill="#161616" font-weight="bold">30</text>
<line x1="1119.2" y1="621.9" x2="1133.7" y2="621.9" stroke="#161616" stroke-width="4.8"/>
<text transform="translate(1103.0 637.4) scale(0.775 1)" font-size="50" text-anchor="end" fill="#161616" font-weight="bold">40</text>
<line x1="1119.2" y1="482.5" x2="1133.7" y2="482.5" stroke="#161616" stroke-width="4.8"/>
<text transform="translate(1103.0 498.0) scale(0.775 1)" font-size="50" text-anchor="end" fill="#161616" font-weight="bold">50</text>
<line x1="1119.2" y1="343.1" x2="1133.7" y2="343.1" stroke="#161616" stroke-width="4.8"/>
<text transform="translate(1103.0 358.6) scale(0.775 1)" font-size="50" text-anchor="end" fill="#161616" font-weight="bold">60</text>
<line x1="1119.2" y1="203.7" x2="1133.7" y2="203.7" stroke="#161616" stroke-width="4.8"/>
<text transform="translate(1103.0 219.2) scale(0.775 1)" font-size="50" text-anchor="end" fill="#161616" font-weight="bold">70</text>
<line x1="1195.3" y1="1179.6" x2="1195.3" y2="1158.1" stroke="#161616" stroke-width="4.4"/>
<text transform="translate(1194.0 1237.2) scale(0.78 1)" font-size="50" text-anchor="middle" fill="#161616" font-weight="bold">0</text>
<line x1="1346.3" y1="1179.6" x2="1346.3" y2="1158.1" stroke="#161616" stroke-width="4.4"/>
<text transform="translate(1345.0 1237.2) scale(0.78 1)" font-size="50" text-anchor="middle" fill="#161616" font-weight="bold">20</text>
<line x1="1497.3" y1="1179.6" x2="1497.3" y2="1158.1" stroke="#161616" stroke-width="4.4"/>
<text transform="translate(1496.0 1237.2) scale(0.78 1)" font-size="50" text-anchor="middle" fill="#161616" font-weight="bold">40</text>
<line x1="1648.3" y1="1179.6" x2="1648.3" y2="1158.1" stroke="#161616" stroke-width="4.4"/>
<text transform="translate(1647.0 1237.2) scale(0.78 1)" font-size="50" text-anchor="middle" fill="#161616" font-weight="bold">60</text>
<line x1="1799.3" y1="1179.6" x2="1799.3" y2="1158.1" stroke="#161616" stroke-width="4.4"/>
<text transform="translate(1798.0 1237.2) scale(0.78 1)" font-size="50" text-anchor="middle" fill="#161616" font-weight="bold">80</text>
<line x1="1950.3" y1="1179.6" x2="1950.3" y2="1158.1" stroke="#161616" stroke-width="4.4"/>
<text transform="translate(1947.0 1237.2) scale(0.77 1)" font-size="50" text-anchor="middle" fill="#161616" font-weight="bold">100</text>
<line x1="2101.3" y1="1179.6" x2="2101.3" y2="1158.1" stroke="#161616" stroke-width="4.4"/>
<text transform="translate(2096.7 1237.2) scale(0.77 1)" font-size="50" text-anchor="middle" fill="#161616" font-weight="bold">120</text>
<text transform="translate(1649 1309) scale(0.772 1)" font-size="55" text-anchor="middle" fill="#161616" font-weight="bold">Release time (h)</text>
<text transform="translate(1032.4 656.5) rotate(-90) scale(1.325 1)" font-size="44" text-anchor="middle" fill="#161616" stroke="#161616" stroke-width="1.5" stroke-linejoin="round">DOX released (%)</text>
<polyline points="1197.0,996.0 1210.0,876.0 1247.0,766.0 1285.0,658.0 1375.0,548.0 1467.0,435.0 1558.0,326.0 1738.0,287.0 1920.0,257.0 2101.0,237.0" fill="none" stroke="#333" stroke-width="2.2"/>
<polyline points="1197.0,1039.0 1210.0,936.0 1247.0,841.0 1285.0,746.0 1375.0,653.0 1467.0,563.0 1558.0,471.0 1738.0,411.0 1920.0,375.0 2101.0,356.0" fill="none" stroke="#f03030" stroke-width="2.2"/>
<polyline points="1197.0,1090.0 1210.0,999.0 1247.0,919.0 1285.0,846.0 1375.0,767.0 1467.0,690.0 1558.0,660.0 1738.0,629.0 1920.0,604.0 2101.0,583.0" fill="none" stroke="#4a3ad8" stroke-width="2.2"/>
<rect x="1188.3" y="985.5" width="17.4" height="21" fill="#080808"/>
<rect x="1201.3" y="865.5" width="17.4" height="21" fill="#080808"/>
<rect x="1238.3" y="755.5" width="17.4" height="21" fill="#080808"/>
<rect x="1276.3" y="647.5" width="17.4" height="21" fill="#080808"/>
<rect x="1366.3" y="537.5" width="17.4" height="21" fill="#080808"/>
<rect x="1458.3" y="424.5" width="17.4" height="21" fill="#080808"/>
<rect x="1549.3" y="315.5" width="17.4" height="21" fill="#080808"/>
<rect x="1729.3" y="276.5" width="17.4" height="21" fill="#080808"/>
<rect x="1911.3" y="246.5" width="17.4" height="21" fill="#080808"/>
<rect x="2092.3" y="226.5" width="17.4" height="21" fill="#080808"/>
<ellipse cx="1197.0" cy="1039.0" rx="11" ry="13.6" fill="#fa1520"/>
<ellipse cx="1210.0" cy="936.0" rx="11" ry="13.6" fill="#fa1520"/>
<ellipse cx="1247.0" cy="841.0" rx="11" ry="13.6" fill="#fa1520"/>
<ellipse cx="1285.0" cy="746.0" rx="11" ry="13.6" fill="#fa1520"/>
<ellipse cx="1375.0" cy="653.0" rx="11" ry="13.6" fill="#fa1520"/>
<ellipse cx="1467.0" cy="563.0" rx="11" ry="13.6" fill="#fa1520"/>
<ellipse cx="1558.0" cy="471.0" rx="11" ry="13.6" fill="#fa1520"/>
<ellipse cx="1738.0" cy="411.0" rx="11" ry="13.6" fill="#fa1520"/>
<ellipse cx="1920.0" cy="375.0" rx="11" ry="13.6" fill="#fa1520"/>
<ellipse cx="2101.0" cy="356.0" rx="11" ry="13.6" fill="#fa1520"/>
<polygon points="1197.0,1074.8 1208.9,1100.8 1185.1,1100.8" fill="#2a08e0"/>
<polygon points="1210.0,983.8 1221.9,1009.8 1198.1,1009.8" fill="#2a08e0"/>
<polygon points="1247.0,903.8 1258.9,929.8 1235.1,929.8" fill="#2a08e0"/>
<polygon points="1285.0,830.8 1296.9,856.8 1273.1,856.8" fill="#2a08e0"/>
<polygon points="1375.0,751.8 1386.9,777.8 1363.1,777.8" fill="#2a08e0"/>
<polygon points="1467.0,674.8 1478.9,700.8 1455.1,700.8" fill="#2a08e0"/>
<polygon points="1558.0,644.8 1569.9,670.8 1546.1,670.8" fill="#2a08e0"/>
<polygon points="1738.0,613.8 1749.9,639.8 1726.1,639.8" fill="#2a08e0"/>
<polygon points="1920.0,588.8 1931.9,614.8 1908.1,614.8" fill="#2a08e0"/>
<polygon points="2101.0,567.8 2112.9,593.8 2089.1,593.8" fill="#2a08e0"/>
<text transform="translate(2029.5 217) scale(0.68 1)" font-size="56.5" text-anchor="middle" fill="#161616" font-weight="bold">1:1</text>
<text transform="translate(2032 441.3) scale(0.745 1)" font-size="56.5" text-anchor="middle" fill="#161616" font-weight="bold">1:1.3</text>
<text transform="translate(2032 670.5) scale(0.745 1)" font-size="56.5" text-anchor="middle" fill="#161616" font-weight="bold">1:1.6</text>
</g>
</svg></body></html>
